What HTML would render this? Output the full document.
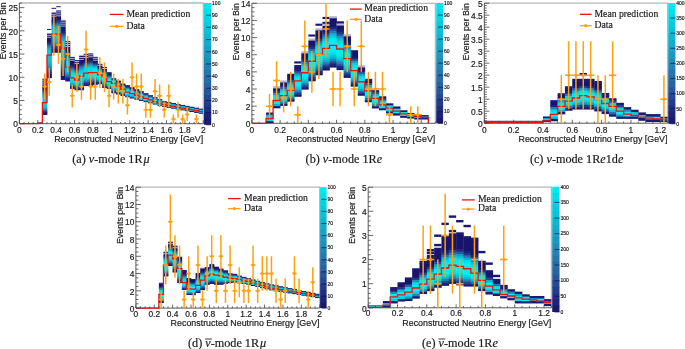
<!DOCTYPE html>
<html><head><meta charset="utf-8"><title>Figure</title>
<style>
html,body{margin:0;padding:0;background:#fff;}
body{width:685px;height:349px;overflow:hidden;}
svg{display:block;font-family:"Liberation Sans",sans-serif;will-change:transform;filter:blur(0.3px);}
</style></head><body>
<svg width="685" height="349" viewBox="0 0 685 349" fill="#1a1a1a">
<style>text{stroke:#1a1a1a;stroke-width:0.18px;}</style>
<clipPath id="ca"><rect x="19.4" y="3" width="183.9" height="120.7"/></clipPath>
<path d="M19.4 3H203.3V123.7" stroke="#b8b8b8" stroke-width="1.3" fill="none"/>
<path d="M19.4 3V123.7H203.3" stroke="#444" stroke-width="0.9" fill="none"/>
<g clip-path="url(#ca)">
<rect x="42.39" y="78.67" width="4.9" height="1.58" fill="#1a1a71"/>
<rect x="42.39" y="79.65" width="4.9" height="1.58" fill="#b4b4d8"/>
<rect x="42.39" y="80.63" width="4.9" height="1.58" fill="#18146c"/>
<rect x="42.39" y="81.61" width="4.9" height="1.58" fill="#b4b4d8"/>
<rect x="42.39" y="82.58" width="4.9" height="1.58" fill="#18146c"/>
<rect x="42.39" y="83.56" width="4.9" height="1.58" fill="#b4b4d8"/>
<rect x="42.39" y="84.54" width="4.9" height="3.54" fill="#18146c"/>
<rect x="42.39" y="87.48" width="4.9" height="1.58" fill="#1b1e74"/>
<rect x="42.39" y="88.46" width="4.9" height="1.58" fill="#1e287c"/>
<rect x="42.39" y="89.43" width="4.9" height="1.58" fill="#213585"/>
<rect x="42.39" y="90.41" width="4.9" height="1.58" fill="#264f96"/>
<rect x="42.39" y="91.39" width="4.9" height="1.58" fill="#2767a4"/>
<rect x="42.39" y="92.37" width="4.9" height="1.58" fill="#237db0"/>
<rect x="42.39" y="93.35" width="4.9" height="1.58" fill="#1c93bc"/>
<rect x="42.39" y="94.33" width="4.9" height="1.58" fill="#14a8c8"/>
<rect x="42.39" y="95.31" width="4.9" height="1.58" fill="#10b2ce"/>
<rect x="42.39" y="96.29" width="4.9" height="1.58" fill="#0cbcd4"/>
<rect x="42.39" y="97.26" width="4.9" height="3.54" fill="#08c6da"/>
<rect x="42.39" y="100.2" width="4.9" height="5.49" fill="#05d0e0"/>
<rect x="42.39" y="105.09" width="4.9" height="2.56" fill="#08c6da"/>
<rect x="42.39" y="107.05" width="4.9" height="1.58" fill="#0cbcd4"/>
<rect x="42.39" y="108.03" width="4.9" height="1.58" fill="#14a8c8"/>
<rect x="42.39" y="109.01" width="4.9" height="1.58" fill="#2088b6"/>
<rect x="42.39" y="109.99" width="4.9" height="1.58" fill="#2767a4"/>
<rect x="42.39" y="110.97" width="4.9" height="1.58" fill="#24428e"/>
<rect x="42.39" y="111.94" width="4.9" height="1.58" fill="#1e287c"/>
<rect x="42.39" y="112.92" width="4.9" height="1.58" fill="#1b1e74"/>
<rect x="42.39" y="113.9" width="4.9" height="0.98" fill="#1a1a71"/>
<rect x="46.98" y="32.9" width="4.9" height="1.58" fill="#b4b4d8"/>
<rect x="46.98" y="33.88" width="4.9" height="1.58" fill="#18146c"/>
<rect x="46.98" y="34.87" width="4.9" height="1.58" fill="#b4b4d8"/>
<rect x="46.98" y="35.85" width="4.9" height="1.58" fill="#18146c"/>
<rect x="46.98" y="36.84" width="4.9" height="1.58" fill="#b4b4d8"/>
<rect x="46.98" y="37.82" width="4.9" height="3.55" fill="#18146c"/>
<rect x="46.98" y="40.78" width="4.9" height="2.57" fill="#1b1e74"/>
<rect x="46.98" y="42.75" width="4.9" height="1.58" fill="#213585"/>
<rect x="46.98" y="43.73" width="4.9" height="1.58" fill="#24428e"/>
<rect x="46.98" y="44.72" width="4.9" height="1.58" fill="#2767a4"/>
<rect x="46.98" y="45.7" width="4.9" height="1.58" fill="#237db0"/>
<rect x="46.98" y="46.69" width="4.9" height="1.58" fill="#1c93bc"/>
<rect x="46.98" y="47.67" width="4.9" height="1.58" fill="#14a8c8"/>
<rect x="46.98" y="48.66" width="4.9" height="1.58" fill="#10b2ce"/>
<rect x="46.98" y="49.64" width="4.9" height="1.58" fill="#0cbcd4"/>
<rect x="46.98" y="50.63" width="4.9" height="11.43" fill="#08c6da"/>
<rect x="46.98" y="61.46" width="4.9" height="2.57" fill="#0cbcd4"/>
<rect x="46.98" y="63.43" width="4.9" height="1.58" fill="#10b2ce"/>
<rect x="46.98" y="64.42" width="4.9" height="1.58" fill="#14a8c8"/>
<rect x="46.98" y="65.4" width="4.9" height="1.58" fill="#189ec2"/>
<rect x="46.98" y="66.39" width="4.9" height="1.58" fill="#1c93bc"/>
<rect x="46.98" y="67.37" width="4.9" height="1.58" fill="#2088b6"/>
<rect x="46.98" y="68.36" width="4.9" height="1.58" fill="#2672aa"/>
<rect x="46.98" y="69.34" width="4.9" height="1.58" fill="#2767a4"/>
<rect x="46.98" y="70.33" width="4.9" height="1.58" fill="#264f96"/>
<rect x="46.98" y="71.31" width="4.9" height="1.58" fill="#24428e"/>
<rect x="46.98" y="72.3" width="4.9" height="2.57" fill="#1e287c"/>
<rect x="46.98" y="74.27" width="4.9" height="1.58" fill="#1b1e74"/>
<rect x="46.98" y="75.25" width="4.9" height="2.57" fill="#18146c"/>
<rect x="46.98" y="77.22" width="4.9" height="0.98" fill="#1a1a71"/>
<rect x="46.98" y="28.97" width="4.6" height="0.97" fill="#19186f"/>
<rect x="51.58" y="11.82" width="4.9" height="1.57" fill="#b4b4d8"/>
<rect x="51.58" y="12.79" width="4.9" height="1.57" fill="#18146c"/>
<rect x="51.58" y="13.77" width="4.9" height="1.57" fill="#b4b4d8"/>
<rect x="51.58" y="14.74" width="4.9" height="1.57" fill="#18146c"/>
<rect x="51.58" y="15.71" width="4.9" height="1.57" fill="#b4b4d8"/>
<rect x="51.58" y="16.68" width="4.9" height="4.49" fill="#18146c"/>
<rect x="51.58" y="20.57" width="4.9" height="1.57" fill="#1b1e74"/>
<rect x="51.58" y="21.55" width="4.9" height="1.57" fill="#1e287c"/>
<rect x="51.58" y="22.52" width="4.9" height="1.57" fill="#24428e"/>
<rect x="51.58" y="23.49" width="4.9" height="1.57" fill="#285c9e"/>
<rect x="51.58" y="24.47" width="4.9" height="1.57" fill="#2672aa"/>
<rect x="51.58" y="25.44" width="4.9" height="1.57" fill="#1c93bc"/>
<rect x="51.58" y="26.41" width="4.9" height="1.57" fill="#14a8c8"/>
<rect x="51.58" y="27.38" width="4.9" height="1.57" fill="#10b2ce"/>
<rect x="51.58" y="28.36" width="4.9" height="1.57" fill="#0cbcd4"/>
<rect x="51.58" y="29.33" width="4.9" height="10.33" fill="#08c6da"/>
<rect x="51.58" y="39.06" width="4.9" height="2.55" fill="#0cbcd4"/>
<rect x="51.58" y="41" width="4.9" height="1.57" fill="#10b2ce"/>
<rect x="51.58" y="41.97" width="4.9" height="1.57" fill="#14a8c8"/>
<rect x="51.58" y="42.95" width="4.9" height="1.57" fill="#1c93bc"/>
<rect x="51.58" y="43.92" width="4.9" height="1.57" fill="#2088b6"/>
<rect x="51.58" y="44.89" width="4.9" height="1.57" fill="#2672aa"/>
<rect x="51.58" y="45.86" width="4.9" height="1.57" fill="#285c9e"/>
<rect x="51.58" y="46.84" width="4.9" height="1.57" fill="#24428e"/>
<rect x="51.58" y="47.81" width="4.9" height="1.57" fill="#213585"/>
<rect x="51.58" y="48.78" width="4.9" height="1.57" fill="#1e287c"/>
<rect x="51.58" y="49.75" width="4.9" height="1.57" fill="#1b1e74"/>
<rect x="51.58" y="50.73" width="4.9" height="1.57" fill="#18146c"/>
<rect x="51.58" y="51.7" width="4.9" height="0.97" fill="#1a1a71"/>
<rect x="51.58" y="7.85" width="4.6" height="0.97" fill="#19186f"/>
<rect x="56.18" y="10.43" width="4.9" height="1.58" fill="#1a1a71"/>
<rect x="56.18" y="11.41" width="4.9" height="1.58" fill="#b4b4d8"/>
<rect x="56.18" y="12.39" width="4.9" height="1.58" fill="#18146c"/>
<rect x="56.18" y="13.38" width="4.9" height="1.58" fill="#b4b4d8"/>
<rect x="56.18" y="14.36" width="4.9" height="1.58" fill="#18146c"/>
<rect x="56.18" y="15.34" width="4.9" height="1.58" fill="#b4b4d8"/>
<rect x="56.18" y="16.32" width="4.9" height="3.55" fill="#18146c"/>
<rect x="56.18" y="19.27" width="4.9" height="1.58" fill="#1b1e74"/>
<rect x="56.18" y="20.25" width="4.9" height="1.58" fill="#1e287c"/>
<rect x="56.18" y="21.23" width="4.9" height="1.58" fill="#213585"/>
<rect x="56.18" y="22.22" width="4.9" height="1.58" fill="#264f96"/>
<rect x="56.18" y="23.2" width="4.9" height="1.58" fill="#2767a4"/>
<rect x="56.18" y="24.18" width="4.9" height="1.58" fill="#237db0"/>
<rect x="56.18" y="25.16" width="4.9" height="1.58" fill="#1c93bc"/>
<rect x="56.18" y="26.15" width="4.9" height="1.58" fill="#14a8c8"/>
<rect x="56.18" y="27.13" width="4.9" height="1.58" fill="#10b2ce"/>
<rect x="56.18" y="28.11" width="4.9" height="1.58" fill="#0cbcd4"/>
<rect x="56.18" y="29.09" width="4.9" height="10.42" fill="#08c6da"/>
<rect x="56.18" y="38.92" width="4.9" height="2.56" fill="#0cbcd4"/>
<rect x="56.18" y="40.88" width="4.9" height="1.58" fill="#10b2ce"/>
<rect x="56.18" y="41.87" width="4.9" height="1.58" fill="#14a8c8"/>
<rect x="56.18" y="42.85" width="4.9" height="1.58" fill="#189ec2"/>
<rect x="56.18" y="43.83" width="4.9" height="1.58" fill="#2088b6"/>
<rect x="56.18" y="44.81" width="4.9" height="1.58" fill="#2672aa"/>
<rect x="56.18" y="45.8" width="4.9" height="1.58" fill="#285c9e"/>
<rect x="56.18" y="46.78" width="4.9" height="1.58" fill="#24428e"/>
<rect x="56.18" y="47.76" width="4.9" height="1.58" fill="#213585"/>
<rect x="56.18" y="48.74" width="4.9" height="1.58" fill="#1e287c"/>
<rect x="56.18" y="49.73" width="4.9" height="1.58" fill="#1b1e74"/>
<rect x="56.18" y="50.71" width="4.9" height="1.58" fill="#18146c"/>
<rect x="56.18" y="51.69" width="4.9" height="0.98" fill="#1a1a71"/>
<rect x="56.18" y="6.23" width="4.6" height="0.97" fill="#19186f"/>
<rect x="60.78" y="19.71" width="4.9" height="1.57" fill="#b4b4d8"/>
<rect x="60.78" y="20.69" width="4.9" height="1.57" fill="#18146c"/>
<rect x="60.78" y="21.66" width="4.9" height="1.57" fill="#b4b4d8"/>
<rect x="60.78" y="22.63" width="4.9" height="1.57" fill="#18146c"/>
<rect x="60.78" y="23.61" width="4.9" height="1.57" fill="#b4b4d8"/>
<rect x="60.78" y="24.58" width="4.9" height="1.57" fill="#18146c"/>
<rect x="60.78" y="25.55" width="4.9" height="1.57" fill="#b4b4d8"/>
<rect x="60.78" y="26.53" width="4.9" height="4.49" fill="#18146c"/>
<rect x="60.78" y="30.42" width="4.9" height="2.55" fill="#1b1e74"/>
<rect x="60.78" y="32.37" width="4.9" height="1.57" fill="#1e287c"/>
<rect x="60.78" y="33.34" width="4.9" height="1.57" fill="#24428e"/>
<rect x="60.78" y="34.31" width="4.9" height="1.57" fill="#264f96"/>
<rect x="60.78" y="35.29" width="4.9" height="1.57" fill="#2767a4"/>
<rect x="60.78" y="36.26" width="4.9" height="1.57" fill="#237db0"/>
<rect x="60.78" y="37.23" width="4.9" height="1.57" fill="#1c93bc"/>
<rect x="60.78" y="38.21" width="4.9" height="1.57" fill="#189ec2"/>
<rect x="60.78" y="39.18" width="4.9" height="1.57" fill="#14a8c8"/>
<rect x="60.78" y="40.15" width="4.9" height="1.57" fill="#10b2ce"/>
<rect x="60.78" y="41.13" width="4.9" height="2.55" fill="#0cbcd4"/>
<rect x="60.78" y="43.07" width="4.9" height="14.23" fill="#08c6da"/>
<rect x="60.78" y="56.7" width="4.9" height="3.52" fill="#0cbcd4"/>
<rect x="60.78" y="59.62" width="4.9" height="2.55" fill="#10b2ce"/>
<rect x="60.78" y="61.57" width="4.9" height="1.57" fill="#14a8c8"/>
<rect x="60.78" y="62.54" width="4.9" height="1.57" fill="#189ec2"/>
<rect x="60.78" y="63.51" width="4.9" height="1.57" fill="#1c93bc"/>
<rect x="60.78" y="64.49" width="4.9" height="1.57" fill="#2088b6"/>
<rect x="60.78" y="65.46" width="4.9" height="1.57" fill="#237db0"/>
<rect x="60.78" y="66.43" width="4.9" height="1.57" fill="#2672aa"/>
<rect x="60.78" y="67.41" width="4.9" height="1.57" fill="#2767a4"/>
<rect x="60.78" y="68.38" width="4.9" height="1.57" fill="#285c9e"/>
<rect x="60.78" y="69.36" width="4.9" height="1.57" fill="#264f96"/>
<rect x="60.78" y="70.33" width="4.9" height="1.57" fill="#24428e"/>
<rect x="60.78" y="71.3" width="4.9" height="1.57" fill="#213585"/>
<rect x="60.78" y="72.28" width="4.9" height="2.55" fill="#1e287c"/>
<rect x="60.78" y="74.22" width="4.9" height="2.55" fill="#1b1e74"/>
<rect x="60.78" y="76.17" width="4.9" height="3.52" fill="#18146c"/>
<rect x="60.78" y="79.09" width="4.9" height="0.97" fill="#1a1a71"/>
<rect x="65.38" y="41.07" width="4.9" height="1.59" fill="#1a1a71"/>
<rect x="65.38" y="42.05" width="4.9" height="1.59" fill="#b4b4d8"/>
<rect x="65.38" y="43.04" width="4.9" height="1.59" fill="#18146c"/>
<rect x="65.38" y="44.02" width="4.9" height="1.59" fill="#b4b4d8"/>
<rect x="65.38" y="45.01" width="4.9" height="1.59" fill="#18146c"/>
<rect x="65.38" y="45.99" width="4.9" height="1.59" fill="#b4b4d8"/>
<rect x="65.38" y="46.98" width="4.9" height="4.54" fill="#18146c"/>
<rect x="65.38" y="50.92" width="4.9" height="1.59" fill="#1b1e74"/>
<rect x="65.38" y="51.9" width="4.9" height="1.59" fill="#1e287c"/>
<rect x="65.38" y="52.89" width="4.9" height="1.59" fill="#213585"/>
<rect x="65.38" y="53.87" width="4.9" height="1.59" fill="#24428e"/>
<rect x="65.38" y="54.86" width="4.9" height="1.59" fill="#285c9e"/>
<rect x="65.38" y="55.84" width="4.9" height="1.59" fill="#2672aa"/>
<rect x="65.38" y="56.83" width="4.9" height="1.59" fill="#2088b6"/>
<rect x="65.38" y="57.81" width="4.9" height="1.59" fill="#189ec2"/>
<rect x="65.38" y="58.8" width="4.9" height="1.59" fill="#14a8c8"/>
<rect x="65.38" y="59.78" width="4.9" height="1.59" fill="#10b2ce"/>
<rect x="65.38" y="60.77" width="4.9" height="1.59" fill="#0cbcd4"/>
<rect x="65.38" y="61.75" width="4.9" height="10.45" fill="#08c6da"/>
<rect x="65.38" y="71.6" width="4.9" height="1.59" fill="#0cbcd4"/>
<rect x="65.38" y="72.59" width="4.9" height="1.59" fill="#10b2ce"/>
<rect x="65.38" y="73.57" width="4.9" height="1.59" fill="#189ec2"/>
<rect x="65.38" y="74.56" width="4.9" height="1.59" fill="#2088b6"/>
<rect x="65.38" y="75.54" width="4.9" height="1.59" fill="#2767a4"/>
<rect x="65.38" y="76.53" width="4.9" height="1.59" fill="#264f96"/>
<rect x="65.38" y="77.51" width="4.9" height="1.59" fill="#213585"/>
<rect x="65.38" y="78.5" width="4.9" height="2.57" fill="#1b1e74"/>
<rect x="65.38" y="80.47" width="4.9" height="0.99" fill="#1a1a71"/>
<rect x="69.97" y="56.85" width="4.9" height="1.57" fill="#1a1a71"/>
<rect x="69.97" y="57.82" width="4.9" height="1.57" fill="#b4b4d8"/>
<rect x="69.97" y="58.79" width="4.9" height="1.57" fill="#18146c"/>
<rect x="69.97" y="59.76" width="4.9" height="1.57" fill="#b4b4d8"/>
<rect x="69.97" y="60.73" width="4.9" height="4.48" fill="#18146c"/>
<rect x="69.97" y="64.62" width="4.9" height="1.57" fill="#1b1e74"/>
<rect x="69.97" y="65.59" width="4.9" height="1.57" fill="#1e287c"/>
<rect x="69.97" y="66.56" width="4.9" height="1.57" fill="#24428e"/>
<rect x="69.97" y="67.53" width="4.9" height="1.57" fill="#285c9e"/>
<rect x="69.97" y="68.5" width="4.9" height="1.57" fill="#237db0"/>
<rect x="69.97" y="69.47" width="4.9" height="1.57" fill="#189ec2"/>
<rect x="69.97" y="70.44" width="4.9" height="1.57" fill="#10b2ce"/>
<rect x="69.97" y="71.41" width="4.9" height="1.57" fill="#08c6da"/>
<rect x="69.97" y="72.38" width="4.9" height="1.57" fill="#05d0e0"/>
<rect x="69.97" y="73.35" width="4.9" height="1.57" fill="#02dae6"/>
<rect x="69.97" y="74.32" width="4.9" height="6.42" fill="#01e4ec"/>
<rect x="69.97" y="80.15" width="4.9" height="2.54" fill="#02dae6"/>
<rect x="69.97" y="82.09" width="4.9" height="1.57" fill="#08c6da"/>
<rect x="69.97" y="83.06" width="4.9" height="1.57" fill="#10b2ce"/>
<rect x="69.97" y="84.03" width="4.9" height="1.57" fill="#2088b6"/>
<rect x="69.97" y="85" width="4.9" height="1.57" fill="#2767a4"/>
<rect x="69.97" y="85.97" width="4.9" height="1.57" fill="#213585"/>
<rect x="69.97" y="86.94" width="4.9" height="1.57" fill="#1b1e74"/>
<rect x="69.97" y="87.91" width="4.9" height="0.97" fill="#1a1a71"/>
<rect x="74.57" y="60.1" width="4.9" height="1.57" fill="#1a1a71"/>
<rect x="74.57" y="61.07" width="4.9" height="1.57" fill="#b4b4d8"/>
<rect x="74.57" y="62.05" width="4.9" height="1.57" fill="#18146c"/>
<rect x="74.57" y="63.02" width="4.9" height="1.57" fill="#b4b4d8"/>
<rect x="74.57" y="63.99" width="4.9" height="3.52" fill="#18146c"/>
<rect x="74.57" y="66.91" width="4.9" height="1.57" fill="#1b1e74"/>
<rect x="74.57" y="67.89" width="4.9" height="1.57" fill="#1e287c"/>
<rect x="74.57" y="68.86" width="4.9" height="1.57" fill="#213585"/>
<rect x="74.57" y="69.83" width="4.9" height="1.57" fill="#285c9e"/>
<rect x="74.57" y="70.81" width="4.9" height="1.57" fill="#237db0"/>
<rect x="74.57" y="71.78" width="4.9" height="1.57" fill="#189ec2"/>
<rect x="74.57" y="72.75" width="4.9" height="1.57" fill="#0cbcd4"/>
<rect x="74.57" y="73.73" width="4.9" height="1.57" fill="#05d0e0"/>
<rect x="74.57" y="74.7" width="4.9" height="1.57" fill="#02dae6"/>
<rect x="74.57" y="75.67" width="4.9" height="1.57" fill="#01e4ec"/>
<rect x="74.57" y="76.65" width="4.9" height="6.44" fill="#00eef2"/>
<rect x="74.57" y="82.49" width="4.9" height="1.57" fill="#01e4ec"/>
<rect x="74.57" y="83.46" width="4.9" height="1.57" fill="#02dae6"/>
<rect x="74.57" y="84.44" width="4.9" height="1.57" fill="#08c6da"/>
<rect x="74.57" y="85.41" width="4.9" height="1.57" fill="#189ec2"/>
<rect x="74.57" y="86.38" width="4.9" height="1.57" fill="#2672aa"/>
<rect x="74.57" y="87.36" width="4.9" height="1.57" fill="#24428e"/>
<rect x="74.57" y="88.33" width="4.9" height="1.57" fill="#1e287c"/>
<rect x="74.57" y="89.3" width="4.9" height="0.97" fill="#1a1a71"/>
<rect x="79.17" y="54.99" width="4.9" height="1.58" fill="#b4b4d8"/>
<rect x="79.17" y="55.97" width="4.9" height="1.58" fill="#18146c"/>
<rect x="79.17" y="56.95" width="4.9" height="1.58" fill="#b4b4d8"/>
<rect x="79.17" y="57.93" width="4.9" height="1.58" fill="#18146c"/>
<rect x="79.17" y="58.91" width="4.9" height="1.58" fill="#b4b4d8"/>
<rect x="79.17" y="59.89" width="4.9" height="3.54" fill="#18146c"/>
<rect x="79.17" y="62.83" width="4.9" height="1.58" fill="#1b1e74"/>
<rect x="79.17" y="63.81" width="4.9" height="1.58" fill="#1e287c"/>
<rect x="79.17" y="64.79" width="4.9" height="1.58" fill="#24428e"/>
<rect x="79.17" y="65.77" width="4.9" height="1.58" fill="#285c9e"/>
<rect x="79.17" y="66.75" width="4.9" height="1.58" fill="#237db0"/>
<rect x="79.17" y="67.73" width="4.9" height="1.58" fill="#1c93bc"/>
<rect x="79.17" y="68.71" width="4.9" height="1.58" fill="#14a8c8"/>
<rect x="79.17" y="69.69" width="4.9" height="1.58" fill="#0cbcd4"/>
<rect x="79.17" y="70.67" width="4.9" height="1.58" fill="#08c6da"/>
<rect x="79.17" y="71.65" width="4.9" height="9.42" fill="#05d0e0"/>
<rect x="79.17" y="80.47" width="4.9" height="1.58" fill="#08c6da"/>
<rect x="79.17" y="81.45" width="4.9" height="1.58" fill="#0cbcd4"/>
<rect x="79.17" y="82.44" width="4.9" height="1.58" fill="#14a8c8"/>
<rect x="79.17" y="83.42" width="4.9" height="1.58" fill="#1c93bc"/>
<rect x="79.17" y="84.4" width="4.9" height="1.58" fill="#2672aa"/>
<rect x="79.17" y="85.38" width="4.9" height="1.58" fill="#285c9e"/>
<rect x="79.17" y="86.36" width="4.9" height="1.58" fill="#213585"/>
<rect x="79.17" y="87.34" width="4.9" height="1.58" fill="#1e287c"/>
<rect x="79.17" y="88.32" width="4.9" height="1.58" fill="#1b1e74"/>
<rect x="79.17" y="89.3" width="4.9" height="0.98" fill="#1a1a71"/>
<rect x="83.76" y="53.14" width="4.9" height="1.57" fill="#b4b4d8"/>
<rect x="83.76" y="54.11" width="4.9" height="1.57" fill="#18146c"/>
<rect x="83.76" y="55.08" width="4.9" height="1.57" fill="#b4b4d8"/>
<rect x="83.76" y="56.05" width="4.9" height="1.57" fill="#18146c"/>
<rect x="83.76" y="57.01" width="4.9" height="1.57" fill="#b4b4d8"/>
<rect x="83.76" y="57.98" width="4.9" height="2.54" fill="#18146c"/>
<rect x="83.76" y="59.92" width="4.9" height="2.54" fill="#1b1e74"/>
<rect x="83.76" y="61.86" width="4.9" height="1.57" fill="#213585"/>
<rect x="83.76" y="62.83" width="4.9" height="1.57" fill="#264f96"/>
<rect x="83.76" y="63.8" width="4.9" height="1.57" fill="#2672aa"/>
<rect x="83.76" y="64.77" width="4.9" height="1.57" fill="#1c93bc"/>
<rect x="83.76" y="65.74" width="4.9" height="1.57" fill="#14a8c8"/>
<rect x="83.76" y="66.71" width="4.9" height="1.57" fill="#0cbcd4"/>
<rect x="83.76" y="67.68" width="4.9" height="1.57" fill="#05d0e0"/>
<rect x="83.76" y="68.65" width="4.9" height="9.32" fill="#02dae6"/>
<rect x="83.76" y="77.37" width="4.9" height="1.57" fill="#05d0e0"/>
<rect x="83.76" y="78.34" width="4.9" height="1.57" fill="#0cbcd4"/>
<rect x="83.76" y="79.31" width="4.9" height="1.57" fill="#14a8c8"/>
<rect x="83.76" y="80.28" width="4.9" height="1.57" fill="#2088b6"/>
<rect x="83.76" y="81.25" width="4.9" height="1.57" fill="#2767a4"/>
<rect x="83.76" y="82.22" width="4.9" height="1.57" fill="#24428e"/>
<rect x="83.76" y="83.19" width="4.9" height="1.57" fill="#1e287c"/>
<rect x="83.76" y="84.16" width="4.9" height="1.57" fill="#1b1e74"/>
<rect x="83.76" y="85.13" width="4.9" height="0.97" fill="#1a1a71"/>
<rect x="88.36" y="53.37" width="4.9" height="1.58" fill="#1a1a71"/>
<rect x="88.36" y="54.35" width="4.9" height="1.58" fill="#b4b4d8"/>
<rect x="88.36" y="55.32" width="4.9" height="1.58" fill="#18146c"/>
<rect x="88.36" y="56.3" width="4.9" height="1.58" fill="#b4b4d8"/>
<rect x="88.36" y="57.28" width="4.9" height="3.53" fill="#18146c"/>
<rect x="88.36" y="60.21" width="4.9" height="1.58" fill="#1b1e74"/>
<rect x="88.36" y="61.19" width="4.9" height="1.58" fill="#1e287c"/>
<rect x="88.36" y="62.17" width="4.9" height="1.58" fill="#24428e"/>
<rect x="88.36" y="63.15" width="4.9" height="1.58" fill="#2767a4"/>
<rect x="88.36" y="64.12" width="4.9" height="1.58" fill="#2088b6"/>
<rect x="88.36" y="65.1" width="4.9" height="1.58" fill="#14a8c8"/>
<rect x="88.36" y="66.08" width="4.9" height="1.58" fill="#0cbcd4"/>
<rect x="88.36" y="67.06" width="4.9" height="1.58" fill="#05d0e0"/>
<rect x="88.36" y="68.03" width="4.9" height="2.56" fill="#02dae6"/>
<rect x="88.36" y="69.99" width="4.9" height="5.49" fill="#01e4ec"/>
<rect x="88.36" y="74.88" width="4.9" height="2.56" fill="#02dae6"/>
<rect x="88.36" y="76.83" width="4.9" height="1.58" fill="#05d0e0"/>
<rect x="88.36" y="77.81" width="4.9" height="1.58" fill="#08c6da"/>
<rect x="88.36" y="78.79" width="4.9" height="1.58" fill="#14a8c8"/>
<rect x="88.36" y="79.77" width="4.9" height="1.58" fill="#2088b6"/>
<rect x="88.36" y="80.74" width="4.9" height="1.58" fill="#2767a4"/>
<rect x="88.36" y="81.72" width="4.9" height="1.58" fill="#24428e"/>
<rect x="88.36" y="82.7" width="4.9" height="1.58" fill="#1e287c"/>
<rect x="88.36" y="83.68" width="4.9" height="1.58" fill="#1b1e74"/>
<rect x="88.36" y="84.66" width="4.9" height="0.98" fill="#1a1a71"/>
<rect x="92.96" y="56.85" width="4.9" height="1.56" fill="#1a1a71"/>
<rect x="92.96" y="57.81" width="4.9" height="1.56" fill="#b4b4d8"/>
<rect x="92.96" y="58.77" width="4.9" height="1.56" fill="#18146c"/>
<rect x="92.96" y="59.73" width="4.9" height="1.56" fill="#b4b4d8"/>
<rect x="92.96" y="60.69" width="4.9" height="2.52" fill="#18146c"/>
<rect x="92.96" y="62.61" width="4.9" height="1.56" fill="#1e287c"/>
<rect x="92.96" y="63.57" width="4.9" height="1.56" fill="#24428e"/>
<rect x="92.96" y="64.53" width="4.9" height="1.56" fill="#2767a4"/>
<rect x="92.96" y="65.5" width="4.9" height="1.56" fill="#1c93bc"/>
<rect x="92.96" y="66.46" width="4.9" height="1.56" fill="#10b2ce"/>
<rect x="92.96" y="67.42" width="4.9" height="1.56" fill="#05d0e0"/>
<rect x="92.96" y="68.38" width="4.9" height="1.56" fill="#01e4ec"/>
<rect x="92.96" y="69.34" width="4.9" height="7.32" fill="#00eef2"/>
<rect x="92.96" y="76.06" width="4.9" height="1.56" fill="#01e4ec"/>
<rect x="92.96" y="77.02" width="4.9" height="1.56" fill="#02dae6"/>
<rect x="92.96" y="77.98" width="4.9" height="1.56" fill="#0cbcd4"/>
<rect x="92.96" y="78.94" width="4.9" height="1.56" fill="#189ec2"/>
<rect x="92.96" y="79.9" width="4.9" height="1.56" fill="#237db0"/>
<rect x="92.96" y="80.86" width="4.9" height="1.56" fill="#264f96"/>
<rect x="92.96" y="81.82" width="4.9" height="1.56" fill="#213585"/>
<rect x="92.96" y="82.78" width="4.9" height="1.56" fill="#1b1e74"/>
<rect x="92.96" y="83.74" width="4.9" height="0.96" fill="#1a1a71"/>
<rect x="97.56" y="63.81" width="4.9" height="1.57" fill="#1a1a71"/>
<rect x="97.56" y="64.79" width="4.9" height="1.57" fill="#b4b4d8"/>
<rect x="97.56" y="65.76" width="4.9" height="1.57" fill="#18146c"/>
<rect x="97.56" y="66.73" width="4.9" height="1.57" fill="#1b1e74"/>
<rect x="97.56" y="67.7" width="4.9" height="1.57" fill="#213585"/>
<rect x="97.56" y="68.68" width="4.9" height="1.57" fill="#2767a4"/>
<rect x="97.56" y="69.65" width="4.9" height="1.57" fill="#189ec2"/>
<rect x="97.56" y="70.62" width="4.9" height="1.57" fill="#08c6da"/>
<rect x="97.56" y="71.6" width="4.9" height="1.57" fill="#01e4ec"/>
<rect x="97.56" y="72.57" width="4.9" height="5.46" fill="#00eef2"/>
<rect x="97.56" y="77.43" width="4.9" height="1.57" fill="#01e4ec"/>
<rect x="97.56" y="78.4" width="4.9" height="1.57" fill="#05d0e0"/>
<rect x="97.56" y="79.38" width="4.9" height="1.57" fill="#10b2ce"/>
<rect x="97.56" y="80.35" width="4.9" height="1.57" fill="#2088b6"/>
<rect x="97.56" y="81.32" width="4.9" height="1.57" fill="#285c9e"/>
<rect x="97.56" y="82.3" width="4.9" height="1.57" fill="#1e287c"/>
<rect x="97.56" y="83.27" width="4.9" height="0.97" fill="#1a1a71"/>
<rect x="102.16" y="67.06" width="4.9" height="1.59" fill="#1a1a71"/>
<rect x="102.16" y="68.06" width="4.9" height="1.59" fill="#b4b4d8"/>
<rect x="102.16" y="69.05" width="4.9" height="1.59" fill="#18146c"/>
<rect x="102.16" y="70.05" width="4.9" height="1.59" fill="#1e287c"/>
<rect x="102.16" y="71.04" width="4.9" height="1.59" fill="#264f96"/>
<rect x="102.16" y="72.04" width="4.9" height="1.59" fill="#1c93bc"/>
<rect x="102.16" y="73.03" width="4.9" height="1.59" fill="#08c6da"/>
<rect x="102.16" y="74.03" width="4.9" height="1.59" fill="#01e4ec"/>
<rect x="102.16" y="75.02" width="4.9" height="5.57" fill="#00eef2"/>
<rect x="102.16" y="80" width="4.9" height="1.59" fill="#01e4ec"/>
<rect x="102.16" y="80.99" width="4.9" height="1.59" fill="#02dae6"/>
<rect x="102.16" y="81.99" width="4.9" height="1.59" fill="#0cbcd4"/>
<rect x="102.16" y="82.98" width="4.9" height="1.59" fill="#189ec2"/>
<rect x="102.16" y="83.98" width="4.9" height="1.59" fill="#2672aa"/>
<rect x="102.16" y="84.97" width="4.9" height="1.59" fill="#24428e"/>
<rect x="102.16" y="85.96" width="4.9" height="1.59" fill="#1e287c"/>
<rect x="102.16" y="86.96" width="4.9" height="0.99" fill="#1a1a71"/>
<rect x="106.75" y="72.17" width="4.9" height="1.58" fill="#1a1a71"/>
<rect x="106.75" y="73.15" width="4.9" height="2.57" fill="#18146c"/>
<rect x="106.75" y="75.12" width="4.9" height="1.58" fill="#213585"/>
<rect x="106.75" y="76.1" width="4.9" height="1.58" fill="#2767a4"/>
<rect x="106.75" y="77.09" width="4.9" height="1.58" fill="#14a8c8"/>
<rect x="106.75" y="78.07" width="4.9" height="1.58" fill="#05d0e0"/>
<rect x="106.75" y="79.05" width="4.9" height="1.58" fill="#01e4ec"/>
<rect x="106.75" y="80.03" width="4.9" height="4.53" fill="#00eef2"/>
<rect x="106.75" y="83.97" width="4.9" height="1.58" fill="#02dae6"/>
<rect x="106.75" y="84.95" width="4.9" height="1.58" fill="#0cbcd4"/>
<rect x="106.75" y="85.93" width="4.9" height="1.58" fill="#2088b6"/>
<rect x="106.75" y="86.92" width="4.9" height="1.58" fill="#24428e"/>
<rect x="106.75" y="87.9" width="4.9" height="0.98" fill="#1a1a71"/>
<rect x="111.35" y="78.21" width="4.9" height="1.61" fill="#1a1a71"/>
<rect x="111.35" y="79.21" width="4.9" height="1.61" fill="#24428e"/>
<rect x="111.35" y="80.22" width="4.9" height="1.61" fill="#14a8c8"/>
<rect x="111.35" y="81.22" width="4.9" height="1.61" fill="#01e4ec"/>
<rect x="111.35" y="82.23" width="4.9" height="4.62" fill="#00eef2"/>
<rect x="111.35" y="86.25" width="4.9" height="1.61" fill="#01e4ec"/>
<rect x="111.35" y="87.26" width="4.9" height="1.61" fill="#05d0e0"/>
<rect x="111.35" y="88.26" width="4.9" height="1.61" fill="#14a8c8"/>
<rect x="111.35" y="89.27" width="4.9" height="1.61" fill="#237db0"/>
<rect x="111.35" y="90.28" width="4.9" height="1.61" fill="#264f96"/>
<rect x="111.35" y="91.28" width="4.9" height="1.61" fill="#1e287c"/>
<rect x="111.35" y="92.29" width="4.9" height="1.01" fill="#1a1a71"/>
<rect x="115.95" y="80.53" width="4.9" height="1.59" fill="#1a1a71"/>
<rect x="115.95" y="81.52" width="4.9" height="1.59" fill="#1e287c"/>
<rect x="115.95" y="82.52" width="4.9" height="1.59" fill="#2088b6"/>
<rect x="115.95" y="83.51" width="4.9" height="1.59" fill="#05d0e0"/>
<rect x="115.95" y="84.51" width="4.9" height="4.58" fill="#00eef2"/>
<rect x="115.95" y="88.48" width="4.9" height="1.59" fill="#01e4ec"/>
<rect x="115.95" y="89.48" width="4.9" height="1.59" fill="#08c6da"/>
<rect x="115.95" y="90.47" width="4.9" height="1.59" fill="#189ec2"/>
<rect x="115.95" y="91.47" width="4.9" height="1.59" fill="#2767a4"/>
<rect x="115.95" y="92.46" width="4.9" height="1.59" fill="#213585"/>
<rect x="115.95" y="93.46" width="4.9" height="0.99" fill="#1a1a71"/>
<rect x="120.55" y="83.54" width="4.9" height="1.55" fill="#1a1a71"/>
<rect x="120.55" y="84.49" width="4.9" height="1.55" fill="#1e287c"/>
<rect x="120.55" y="85.44" width="4.9" height="1.55" fill="#237db0"/>
<rect x="120.55" y="86.38" width="4.9" height="1.55" fill="#08c6da"/>
<rect x="120.55" y="87.33" width="4.9" height="4.39" fill="#00eef2"/>
<rect x="120.55" y="91.11" width="4.9" height="1.55" fill="#01e4ec"/>
<rect x="120.55" y="92.06" width="4.9" height="1.55" fill="#08c6da"/>
<rect x="120.55" y="93.01" width="4.9" height="1.55" fill="#2088b6"/>
<rect x="120.55" y="93.95" width="4.9" height="1.55" fill="#264f96"/>
<rect x="120.55" y="94.9" width="4.9" height="0.95" fill="#1a1a71"/>
<rect x="125.14" y="85.17" width="4.9" height="1.61" fill="#1a1a71"/>
<rect x="125.14" y="86.17" width="4.9" height="1.61" fill="#1b1e74"/>
<rect x="125.14" y="87.18" width="4.9" height="1.61" fill="#24428e"/>
<rect x="125.14" y="88.19" width="4.9" height="1.61" fill="#189ec2"/>
<rect x="125.14" y="89.19" width="4.9" height="1.61" fill="#05d0e0"/>
<rect x="125.14" y="90.2" width="4.9" height="3.62" fill="#00eef2"/>
<rect x="125.14" y="93.22" width="4.9" height="1.61" fill="#01e4ec"/>
<rect x="125.14" y="94.22" width="4.9" height="1.61" fill="#08c6da"/>
<rect x="125.14" y="95.23" width="4.9" height="1.61" fill="#237db0"/>
<rect x="125.14" y="96.23" width="4.9" height="1.01" fill="#1a1a71"/>
<rect x="129.74" y="87.17" width="4.9" height="1.54" fill="#1a1a71"/>
<rect x="129.74" y="88.11" width="4.9" height="1.54" fill="#1b1e74"/>
<rect x="129.74" y="89.05" width="4.9" height="1.54" fill="#264f96"/>
<rect x="129.74" y="89.99" width="4.9" height="1.54" fill="#189ec2"/>
<rect x="129.74" y="90.93" width="4.9" height="1.54" fill="#02dae6"/>
<rect x="129.74" y="91.87" width="4.9" height="3.42" fill="#00eef2"/>
<rect x="129.74" y="94.7" width="4.9" height="1.54" fill="#01e4ec"/>
<rect x="129.74" y="95.64" width="4.9" height="1.54" fill="#08c6da"/>
<rect x="129.74" y="96.58" width="4.9" height="1.54" fill="#237db0"/>
<rect x="129.74" y="97.52" width="4.9" height="0.94" fill="#1a1a71"/>
<rect x="134.34" y="89.17" width="4.9" height="1.55" fill="#1a1a71"/>
<rect x="134.34" y="90.13" width="4.9" height="1.55" fill="#1b1e74"/>
<rect x="134.34" y="91.08" width="4.9" height="1.55" fill="#2767a4"/>
<rect x="134.34" y="92.04" width="4.9" height="1.55" fill="#10b2ce"/>
<rect x="134.34" y="92.99" width="4.9" height="1.55" fill="#01e4ec"/>
<rect x="134.34" y="93.95" width="4.9" height="3.46" fill="#00eef2"/>
<rect x="134.34" y="96.81" width="4.9" height="1.55" fill="#05d0e0"/>
<rect x="134.34" y="97.77" width="4.9" height="1.55" fill="#2088b6"/>
<rect x="134.34" y="98.72" width="4.9" height="0.95" fill="#1a1a71"/>
<rect x="138.94" y="91.17" width="4.9" height="1.57" fill="#1a1a71"/>
<rect x="138.94" y="92.15" width="4.9" height="1.57" fill="#1e287c"/>
<rect x="138.94" y="93.12" width="4.9" height="1.57" fill="#237db0"/>
<rect x="138.94" y="94.09" width="4.9" height="1.57" fill="#05d0e0"/>
<rect x="138.94" y="95.06" width="4.9" height="3.52" fill="#00eef2"/>
<rect x="138.94" y="97.98" width="4.9" height="1.57" fill="#02dae6"/>
<rect x="138.94" y="98.95" width="4.9" height="1.57" fill="#189ec2"/>
<rect x="138.94" y="99.92" width="4.9" height="0.97" fill="#1a1a71"/>
<rect x="143.53" y="93.18" width="4.9" height="1.59" fill="#1a1a71"/>
<rect x="143.53" y="94.17" width="4.9" height="1.59" fill="#213585"/>
<rect x="143.53" y="95.16" width="4.9" height="1.59" fill="#189ec2"/>
<rect x="143.53" y="96.16" width="4.9" height="1.59" fill="#02dae6"/>
<rect x="143.53" y="97.15" width="4.9" height="2.59" fill="#00eef2"/>
<rect x="143.53" y="99.13" width="4.9" height="1.59" fill="#01e4ec"/>
<rect x="143.53" y="100.13" width="4.9" height="1.59" fill="#10b2ce"/>
<rect x="143.53" y="101.12" width="4.9" height="0.99" fill="#1a1a71"/>
<rect x="148.13" y="95.18" width="4.9" height="1.62" fill="#1a1a71"/>
<rect x="148.13" y="96.2" width="4.9" height="1.62" fill="#264f96"/>
<rect x="148.13" y="97.22" width="4.9" height="1.62" fill="#0cbcd4"/>
<rect x="148.13" y="98.24" width="4.9" height="1.62" fill="#01e4ec"/>
<rect x="148.13" y="99.26" width="4.9" height="2.64" fill="#00eef2"/>
<rect x="148.13" y="101.29" width="4.9" height="1.62" fill="#0cbcd4"/>
<rect x="148.13" y="102.31" width="4.9" height="1.02" fill="#1a1a71"/>
<rect x="152.73" y="97.18" width="4.9" height="1.52" fill="#1a1a71"/>
<rect x="152.73" y="98.1" width="4.9" height="1.52" fill="#285c9e"/>
<rect x="152.73" y="99.02" width="4.9" height="1.52" fill="#0cbcd4"/>
<rect x="152.73" y="99.94" width="4.9" height="1.52" fill="#01e4ec"/>
<rect x="152.73" y="100.87" width="4.9" height="2.44" fill="#00eef2"/>
<rect x="152.73" y="102.71" width="4.9" height="1.52" fill="#08c6da"/>
<rect x="152.73" y="103.63" width="4.9" height="0.92" fill="#1a1a71"/>
<rect x="157.33" y="99.18" width="4.9" height="1.54" fill="#1a1a71"/>
<rect x="157.33" y="100.12" width="4.9" height="1.54" fill="#2672aa"/>
<rect x="157.33" y="101.06" width="4.9" height="1.54" fill="#05d0e0"/>
<rect x="157.33" y="102.01" width="4.9" height="2.48" fill="#00eef2"/>
<rect x="157.33" y="103.89" width="4.9" height="1.54" fill="#05d0e0"/>
<rect x="157.33" y="104.83" width="4.9" height="0.94" fill="#1a1a71"/>
<rect x="161.92" y="101.18" width="4.9" height="1.57" fill="#1a1a71"/>
<rect x="161.92" y="102.15" width="4.9" height="1.57" fill="#1c93bc"/>
<rect x="161.92" y="103.12" width="4.9" height="1.57" fill="#01e4ec"/>
<rect x="161.92" y="104.09" width="4.9" height="1.57" fill="#00eef2"/>
<rect x="161.92" y="105.05" width="4.9" height="1.57" fill="#01e4ec"/>
<rect x="161.92" y="106.02" width="4.9" height="0.97" fill="#1a1a71"/>
<rect x="166.52" y="102.11" width="4.9" height="1.55" fill="#1a1a71"/>
<rect x="166.52" y="103.07" width="4.9" height="1.55" fill="#189ec2"/>
<rect x="166.52" y="104.02" width="4.9" height="1.55" fill="#01e4ec"/>
<rect x="166.52" y="104.97" width="4.9" height="1.55" fill="#00eef2"/>
<rect x="166.52" y="105.92" width="4.9" height="1.55" fill="#01e4ec"/>
<rect x="166.52" y="106.88" width="4.9" height="0.95" fill="#1a1a71"/>
<rect x="171.12" y="103.04" width="4.9" height="1.54" fill="#1a1a71"/>
<rect x="171.12" y="103.98" width="4.9" height="1.54" fill="#189ec2"/>
<rect x="171.12" y="104.92" width="4.9" height="1.54" fill="#01e4ec"/>
<rect x="171.12" y="105.86" width="4.9" height="1.54" fill="#00eef2"/>
<rect x="171.12" y="106.79" width="4.9" height="1.54" fill="#01e4ec"/>
<rect x="171.12" y="107.73" width="4.9" height="0.94" fill="#1a1a71"/>
<rect x="175.72" y="103.97" width="4.9" height="1.52" fill="#1a1a71"/>
<rect x="175.72" y="104.89" width="4.9" height="1.52" fill="#189ec2"/>
<rect x="175.72" y="105.82" width="4.9" height="1.52" fill="#01e4ec"/>
<rect x="175.72" y="106.74" width="4.9" height="1.52" fill="#00eef2"/>
<rect x="175.72" y="107.66" width="4.9" height="1.52" fill="#01e4ec"/>
<rect x="175.72" y="108.59" width="4.9" height="0.92" fill="#1a1a71"/>
<rect x="180.31" y="104.9" width="4.9" height="1.51" fill="#1a1a71"/>
<rect x="180.31" y="105.81" width="4.9" height="1.51" fill="#189ec2"/>
<rect x="180.31" y="106.72" width="4.9" height="1.51" fill="#01e4ec"/>
<rect x="180.31" y="107.63" width="4.9" height="1.51" fill="#00eef2"/>
<rect x="180.31" y="108.54" width="4.9" height="1.51" fill="#01e4ec"/>
<rect x="180.31" y="109.44" width="4.9" height="0.91" fill="#1a1a71"/>
<rect x="184.91" y="105.83" width="4.9" height="1.49" fill="#1a1a71"/>
<rect x="184.91" y="106.72" width="4.9" height="1.49" fill="#189ec2"/>
<rect x="184.91" y="107.62" width="4.9" height="1.49" fill="#01e4ec"/>
<rect x="184.91" y="108.51" width="4.9" height="1.49" fill="#00eef2"/>
<rect x="184.91" y="109.41" width="4.9" height="1.49" fill="#01e4ec"/>
<rect x="184.91" y="110.3" width="4.9" height="0.89" fill="#1a1a71"/>
<rect x="189.51" y="106.76" width="4.9" height="1.66" fill="#1a1a71"/>
<rect x="189.51" y="107.81" width="4.9" height="1.66" fill="#0cbcd4"/>
<rect x="189.51" y="108.87" width="4.9" height="2.71" fill="#00eef2"/>
<rect x="189.51" y="110.98" width="4.9" height="1.06" fill="#1a1a71"/>
<rect x="194.11" y="107.68" width="4.9" height="1.64" fill="#1a1a71"/>
<rect x="194.11" y="108.72" width="4.9" height="1.64" fill="#0cbcd4"/>
<rect x="194.11" y="109.76" width="4.9" height="2.68" fill="#00eef2"/>
<rect x="194.11" y="111.84" width="4.9" height="1.04" fill="#1a1a71"/>
<rect x="198.7" y="108.61" width="4.9" height="1.62" fill="#1a1a71"/>
<rect x="198.7" y="109.63" width="4.9" height="1.62" fill="#0cbcd4"/>
<rect x="198.7" y="110.66" width="4.9" height="2.64" fill="#00eef2"/>
<rect x="198.7" y="112.7" width="4.9" height="1.02" fill="#1a1a71"/>
<rect x="37.79" y="123.7" width="4.9" height="0" fill="#1a1a71"/>
<rect x="37.79" y="123.7" width="4.9" height="0" fill="#213585"/>
<rect x="37.79" y="123.7" width="4.9" height="0" fill="#1a1a71"/>
<rect x="37.79" y="122.52" width="4.6" height="0.97" fill="#19186f"/>
</g><clipPath id="ra"><rect x="19.4" y="3" width="183.9" height="121.7"/></clipPath><g clip-path="url(#ra)">
<path d="M19.4 123.7 L24 123.7 L24 123.7 L28.59 123.7 L28.59 123.7 L33.19 123.7 L33.19 123.7 L37.79 123.7 L37.79 123.24 L42.39 123.24 L42.39 102.53 L46.98 102.53 L46.98 55.13 L51.58 55.13 L51.58 34.1 L56.18 34.1 L56.18 34.1 L60.78 34.1 L60.78 48.03 L65.38 48.03 L65.38 67.06 L69.97 67.06 L69.97 77.97 L74.57 77.97 L74.57 80.06 L79.17 80.06 L79.17 76.12 L83.77 76.12 L83.77 73.1 L88.36 73.1 L88.36 72.63 L92.96 72.63 L92.96 72.63 L97.56 72.63 L97.56 74.96 L102.16 74.96 L102.16 77.28 L106.75 77.28 L106.75 81.69 L111.35 81.69 L111.35 83.31 L115.95 83.31 L115.95 86.1 L120.55 86.1 L120.55 89.11 L125.14 89.11 L125.14 92.13 L129.74 92.13 L129.74 93.7 L134.34 93.7 L134.34 95.27 L138.94 95.27 L138.94 96.83 L143.53 96.83 L143.53 98.4 L148.13 98.4 L148.13 99.97 L152.73 99.97 L152.73 101.53 L157.33 101.53 L157.33 103.1 L161.92 103.1 L161.92 104.67 L166.52 104.67 L166.52 105.54 L171.12 105.54 L171.12 106.41 L175.72 106.41 L175.72 107.28 L180.31 107.28 L180.31 108.15 L184.91 108.15 L184.91 109.02 L189.51 109.02 L189.51 109.89 L194.11 109.89 L194.11 110.76 L198.7 110.76 L198.7 111.63 L203.3 111.63" fill="none" stroke="#ee1111" stroke-width="1.3"/>
<path d="M44.69 73.43V99.69M42.39 86.56H46.98" stroke="#ffa010" stroke-width="1.5" fill="none"/>
<circle cx="44.69" cy="86.56" r="1.5" fill="#ffa010"/>
<path d="M49.28 67.99V95.85M46.98 81.92H51.58" stroke="#ffa010" stroke-width="1.5" fill="none"/>
<circle cx="49.28" cy="81.92" r="1.5" fill="#ffa010"/>
<path d="M53.88 15.26V55.73M51.58 35.5H56.18" stroke="#ffa010" stroke-width="1.5" fill="none"/>
<circle cx="53.88" cy="35.5" r="1.5" fill="#ffa010"/>
<path d="M58.48 25.64V63.92M56.18 44.78H60.78" stroke="#ffa010" stroke-width="1.5" fill="none"/>
<circle cx="58.48" cy="44.78" r="1.5" fill="#ffa010"/>
<path d="M63.08 41.34V76.08M60.78 58.71H65.38" stroke="#ffa010" stroke-width="1.5" fill="none"/>
<circle cx="63.08" cy="58.71" r="1.5" fill="#ffa010"/>
<path d="M67.67 36.09V72.04M65.38 54.07H69.97" stroke="#ffa010" stroke-width="1.5" fill="none"/>
<circle cx="67.67" cy="54.07" r="1.5" fill="#ffa010"/>
<path d="M72.27 84.47V107.22M69.97 95.85H74.57" stroke="#ffa010" stroke-width="1.5" fill="none"/>
<circle cx="72.27" cy="95.85" r="1.5" fill="#ffa010"/>
<path d="M76.87 62.6V91.96M74.57 77.28H79.17" stroke="#ffa010" stroke-width="1.5" fill="none"/>
<circle cx="76.87" cy="77.28" r="1.5" fill="#ffa010"/>
<path d="M81.47 73.43V99.69M79.17 86.56H83.77" stroke="#ffa010" stroke-width="1.5" fill="none"/>
<circle cx="81.47" cy="86.56" r="1.5" fill="#ffa010"/>
<path d="M86.06 30.85V67.99M83.77 49.42H88.36" stroke="#ffa010" stroke-width="1.5" fill="none"/>
<circle cx="86.06" cy="49.42" r="1.5" fill="#ffa010"/>
<path d="M90.66 73.43V99.69M88.36 86.56H92.96" stroke="#ffa010" stroke-width="1.5" fill="none"/>
<circle cx="90.66" cy="86.56" r="1.5" fill="#ffa010"/>
<path d="M95.26 73.43V99.69M92.96 86.56H97.56" stroke="#ffa010" stroke-width="1.5" fill="none"/>
<circle cx="95.26" cy="86.56" r="1.5" fill="#ffa010"/>
<path d="M99.86 57.24V88.03M97.56 72.63H102.16" stroke="#ffa010" stroke-width="1.5" fill="none"/>
<circle cx="99.86" cy="72.63" r="1.5" fill="#ffa010"/>
<path d="M104.45 62.6V91.96M102.16 77.28H106.75" stroke="#ffa010" stroke-width="1.5" fill="none"/>
<circle cx="104.45" cy="77.28" r="1.5" fill="#ffa010"/>
<path d="M109.05 84.47V107.22M106.75 95.85H111.35" stroke="#ffa010" stroke-width="1.5" fill="none"/>
<circle cx="109.05" cy="95.85" r="1.5" fill="#ffa010"/>
<path d="M113.65 73.43V99.69M111.35 86.56H115.95" stroke="#ffa010" stroke-width="1.5" fill="none"/>
<circle cx="113.65" cy="86.56" r="1.5" fill="#ffa010"/>
<path d="M118.25 78.92V103.49M115.95 91.2H120.55" stroke="#ffa010" stroke-width="1.5" fill="none"/>
<circle cx="118.25" cy="91.2" r="1.5" fill="#ffa010"/>
<path d="M122.84 78.92V103.49M120.55 91.2H125.14" stroke="#ffa010" stroke-width="1.5" fill="none"/>
<circle cx="122.84" cy="91.2" r="1.5" fill="#ffa010"/>
<path d="M127.44 95.85V114.42M125.14 105.13H129.74" stroke="#ffa010" stroke-width="1.5" fill="none"/>
<circle cx="127.44" cy="105.13" r="1.5" fill="#ffa010"/>
<path d="M132.04 62.6V91.96M129.74 77.28H134.34" stroke="#ffa010" stroke-width="1.5" fill="none"/>
<circle cx="132.04" cy="77.28" r="1.5" fill="#ffa010"/>
<path d="M136.64 73.43V99.69M134.34 86.56H138.93" stroke="#ffa010" stroke-width="1.5" fill="none"/>
<circle cx="136.64" cy="86.56" r="1.5" fill="#ffa010"/>
<path d="M141.23 73.43V99.69M138.94 86.56H143.53" stroke="#ffa010" stroke-width="1.5" fill="none"/>
<circle cx="141.23" cy="86.56" r="1.5" fill="#ffa010"/>
<path d="M145.83 101.73V117.81M143.53 109.77H148.13" stroke="#ffa010" stroke-width="1.5" fill="none"/>
<circle cx="145.83" cy="109.77" r="1.5" fill="#ffa010"/>
<path d="M150.43 101.73V117.81M148.13 109.77H152.73" stroke="#ffa010" stroke-width="1.5" fill="none"/>
<circle cx="150.43" cy="109.77" r="1.5" fill="#ffa010"/>
<path d="M155.03 78.92V103.49M152.73 91.2H157.33" stroke="#ffa010" stroke-width="1.5" fill="none"/>
<circle cx="155.03" cy="91.2" r="1.5" fill="#ffa010"/>
<path d="M159.62 84.47V107.22M157.33 95.85H161.92" stroke="#ffa010" stroke-width="1.5" fill="none"/>
<circle cx="159.62" cy="95.85" r="1.5" fill="#ffa010"/>
<path d="M164.22 101.73V117.81M161.92 109.77H166.52" stroke="#ffa010" stroke-width="1.5" fill="none"/>
<circle cx="164.22" cy="109.77" r="1.5" fill="#ffa010"/>
<path d="M168.82 84.47V107.22M166.52 95.85H171.12" stroke="#ffa010" stroke-width="1.5" fill="none"/>
<circle cx="168.82" cy="95.85" r="1.5" fill="#ffa010"/>
<path d="M173.42 114.42V123.7M171.12 119.06H175.72" stroke="#ffa010" stroke-width="1.5" fill="none"/>
<circle cx="173.42" cy="119.06" r="1.5" fill="#ffa010"/>
<path d="M178.01 101.73V117.81M175.72 109.77H180.31" stroke="#ffa010" stroke-width="1.5" fill="none"/>
<circle cx="178.01" cy="109.77" r="1.5" fill="#ffa010"/>
<path d="M182.61 114.42V123.7M180.31 119.06H184.91" stroke="#ffa010" stroke-width="1.5" fill="none"/>
<circle cx="182.61" cy="119.06" r="1.5" fill="#ffa010"/>
<path d="M187.21 107.85V120.98M184.91 114.42H189.51" stroke="#ffa010" stroke-width="1.5" fill="none"/>
<circle cx="187.21" cy="114.42" r="1.5" fill="#ffa010"/>
<path d="M196.4 114.42V123.7M194.11 119.06H198.7" stroke="#ffa010" stroke-width="1.5" fill="none"/>
<circle cx="196.4" cy="119.06" r="1.5" fill="#ffa010"/>
</g>
<path d="M19.4 123.7h5M19.4 119.06h2.5M19.4 114.42h2.5M19.4 109.77h2.5M19.4 105.13h2.5M19.4 100.49h5M19.4 95.85h2.5M19.4 91.2h2.5M19.4 86.56h2.5M19.4 81.92h2.5M19.4 77.28h5M19.4 72.63h2.5M19.4 67.99h2.5M19.4 63.35h2.5M19.4 58.71h2.5M19.4 54.07h5M19.4 49.42h2.5M19.4 44.78h2.5M19.4 40.14h2.5M19.4 35.5h2.5M19.4 30.85h5M19.4 26.21h2.5M19.4 21.57h2.5M19.4 16.93h2.5M19.4 12.28h2.5M19.4 7.64h5M19.4 3h2.5M19.4 123.7v-3.5M24 123.7v-1.75M28.59 123.7v-1.75M33.19 123.7v-1.75M37.79 123.7v-3.5M42.39 123.7v-1.75M46.98 123.7v-1.75M51.58 123.7v-1.75M56.18 123.7v-3.5M60.78 123.7v-1.75M65.38 123.7v-1.75M69.97 123.7v-1.75M74.57 123.7v-3.5M79.17 123.7v-1.75M83.77 123.7v-1.75M88.36 123.7v-1.75M92.96 123.7v-3.5M97.56 123.7v-1.75M102.16 123.7v-1.75M106.75 123.7v-1.75M111.35 123.7v-3.5M115.95 123.7v-1.75M120.55 123.7v-1.75M125.14 123.7v-1.75M129.74 123.7v-3.5M134.34 123.7v-1.75M138.94 123.7v-1.75M143.53 123.7v-1.75M148.13 123.7v-3.5M152.73 123.7v-1.75M157.33 123.7v-1.75M161.92 123.7v-1.75M166.52 123.7v-3.5M171.12 123.7v-1.75M175.72 123.7v-1.75M180.31 123.7v-1.75M184.91 123.7v-3.5M189.51 123.7v-1.75M194.11 123.7v-1.75M198.7 123.7v-1.75M203.3 123.7v-3.5" stroke="#444" stroke-width="0.8" fill="none"/>
<g font-size="8.4"><text x="17.8" y="127.4" text-anchor="end">0</text><text x="17.8" y="104.18" text-anchor="end">5</text><text x="17.8" y="80.97" text-anchor="end">10</text><text x="17.8" y="57.76" text-anchor="end">15</text><text x="17.8" y="34.55" text-anchor="end">20</text><text x="17.8" y="11.34" text-anchor="end">25</text><text x="19.4" y="133.2" text-anchor="middle">0</text><text x="37.79" y="133.2" text-anchor="middle">0.2</text><text x="56.18" y="133.2" text-anchor="middle">0.4</text><text x="74.57" y="133.2" text-anchor="middle">0.6</text><text x="92.96" y="133.2" text-anchor="middle">0.8</text><text x="111.35" y="133.2" text-anchor="middle">1</text><text x="129.74" y="133.2" text-anchor="middle">1.2</text><text x="148.13" y="133.2" text-anchor="middle">1.4</text><text x="166.52" y="133.2" text-anchor="middle">1.6</text><text x="184.91" y="133.2" text-anchor="middle">1.8</text><text x="203.3" y="133.2" text-anchor="middle">2</text></g>
<text x="203.2" y="142" text-anchor="end" font-size="8.9">Reconstructed Neutrino Energy [GeV]</text>
<text transform="translate(6.4 2.4) rotate(-90)" text-anchor="end" font-size="8.8">Events per Bin</text>
<rect x="204" y="3" width="7.2" height="6.59" fill="#01e9ef"/>
<rect x="204" y="9.09" width="7.2" height="6.59" fill="#01dfe9"/>
<rect x="204" y="15.18" width="7.2" height="6.59" fill="#04d5e3"/>
<rect x="204" y="21.27" width="7.2" height="6.59" fill="#07cbdd"/>
<rect x="204" y="27.36" width="7.2" height="6.59" fill="#0ac1d7"/>
<rect x="204" y="33.45" width="7.2" height="6.59" fill="#0eb7d1"/>
<rect x="204" y="39.54" width="7.2" height="6.59" fill="#12adcb"/>
<rect x="204" y="45.63" width="7.2" height="6.59" fill="#16a3c5"/>
<rect x="204" y="51.72" width="7.2" height="6.59" fill="#1a98bf"/>
<rect x="204" y="57.81" width="7.2" height="6.59" fill="#1e8eb9"/>
<rect x="204" y="63.9" width="7.2" height="6.59" fill="#2282b3"/>
<rect x="204" y="69.99" width="7.2" height="6.59" fill="#2478ad"/>
<rect x="204" y="76.08" width="7.2" height="6.59" fill="#266ca7"/>
<rect x="204" y="82.17" width="7.2" height="6.59" fill="#2862a1"/>
<rect x="204" y="88.26" width="7.2" height="6.59" fill="#27569a"/>
<rect x="204" y="94.35" width="7.2" height="6.59" fill="#254892"/>
<rect x="204" y="100.44" width="7.2" height="6.59" fill="#223b8a"/>
<rect x="204" y="106.53" width="7.2" height="6.59" fill="#202e80"/>
<rect x="204" y="112.62" width="7.2" height="6.59" fill="#1c2378"/>
<rect x="204" y="118.71" width="7.2" height="6.09" fill="#1a1970"/>
<path d="M206.2 124.8H211.2M206.2 112.62H211.2M206.2 100.44H211.2M206.2 88.26H211.2M206.2 76.08H211.2M206.2 63.9H211.2M206.2 51.72H211.2M206.2 39.54H211.2M206.2 27.36H211.2M206.2 15.18H211.2" stroke="#10104a" stroke-width="0.7" fill="none"/>
<g font-size="5"><text x="212.1" y="126.6">0</text><text x="212.1" y="114.42">10</text><text x="212.1" y="102.24">20</text><text x="212.1" y="90.06">30</text><text x="212.1" y="77.88">40</text><text x="212.1" y="65.7">50</text><text x="212.1" y="53.52">60</text><text x="212.1" y="41.34">70</text><text x="212.1" y="29.16">80</text><text x="212.1" y="16.98">90</text><text x="212.1" y="4.8">100</text></g>
<path d="M109.8 14.4H123.6" stroke="#ee1111" stroke-width="1.3"/>
<path d="M109.8 26.3H123.6" stroke="#ffa010" stroke-width="1.3"/>
<circle cx="116.7" cy="26.3" r="1.6" fill="#ffa010"/>
<g font-family="Liberation Serif, serif" font-size="9.7" stroke="#1a1a1a" stroke-width="0.25"><text x="126.5" y="16.8">Mean prediction</text><text x="126.5" y="28.9">Data</text></g>
<text x="72.2" y="162.6" font-family="Liberation Serif, serif" font-size="12.2" stroke="#1a1a1a" stroke-width="0.25">(a) <tspan font-style="italic">ν</tspan>-mode 1R<tspan font-style="italic" dx="0.8">μ</tspan></text>
<clipPath id="cb"><rect x="251.9" y="3.3" width="183.5" height="120"/></clipPath>
<path d="M251.9 3.3H435.4V123.3" stroke="#b8b8b8" stroke-width="1.3" fill="none"/>
<path d="M251.9 3.3V123.3H435.4" stroke="#444" stroke-width="0.9" fill="none"/>
<g clip-path="url(#cb)">
<rect x="266.02" y="112.5" width="7.36" height="2.76" fill="#1a1a71"/>
<rect x="266.02" y="114.66" width="7.36" height="2.76" fill="#0cbcd4"/>
<rect x="266.02" y="116.82" width="7.36" height="2.76" fill="#00eef2"/>
<rect x="266.02" y="118.98" width="7.36" height="2.76" fill="#01e4ec"/>
<rect x="266.02" y="121.14" width="7.36" height="2.16" fill="#1a1a71"/>
<rect x="273.07" y="86.19" width="7.36" height="2.81" fill="#b4b4d8"/>
<rect x="273.07" y="88.4" width="7.36" height="2.81" fill="#18146c"/>
<rect x="273.07" y="90.61" width="7.36" height="2.81" fill="#213585"/>
<rect x="273.07" y="92.82" width="7.36" height="2.81" fill="#1c93bc"/>
<rect x="273.07" y="95.03" width="7.36" height="2.81" fill="#02dae6"/>
<rect x="273.07" y="97.24" width="7.36" height="7.23" fill="#00eef2"/>
<rect x="273.07" y="103.88" width="7.36" height="2.81" fill="#10b2ce"/>
<rect x="273.07" y="106.09" width="7.36" height="2.21" fill="#1a1a71"/>
<rect x="280.13" y="80.44" width="7.36" height="2.72" fill="#b4b4d8"/>
<rect x="280.13" y="82.56" width="7.36" height="2.72" fill="#18146c"/>
<rect x="280.13" y="84.69" width="7.36" height="2.72" fill="#1b1e74"/>
<rect x="280.13" y="86.81" width="7.36" height="2.72" fill="#2767a4"/>
<rect x="280.13" y="88.93" width="7.36" height="2.72" fill="#0cbcd4"/>
<rect x="280.13" y="91.05" width="7.36" height="2.72" fill="#01e4ec"/>
<rect x="280.13" y="93.17" width="7.36" height="6.96" fill="#00eef2"/>
<rect x="280.13" y="99.54" width="7.36" height="2.72" fill="#08c6da"/>
<rect x="280.13" y="101.66" width="7.36" height="2.72" fill="#237db0"/>
<rect x="280.13" y="103.78" width="7.36" height="2.12" fill="#1a1a71"/>
<rect x="287.19" y="73.76" width="7.36" height="2.75" fill="#1a1a71"/>
<rect x="287.19" y="75.91" width="7.36" height="2.75" fill="#18146c"/>
<rect x="287.19" y="78.06" width="7.36" height="2.75" fill="#1b1e74"/>
<rect x="287.19" y="80.21" width="7.36" height="2.75" fill="#264f96"/>
<rect x="287.19" y="82.35" width="7.36" height="2.75" fill="#14a8c8"/>
<rect x="287.19" y="84.5" width="7.36" height="2.75" fill="#02dae6"/>
<rect x="287.19" y="86.65" width="7.36" height="7.05" fill="#00eef2"/>
<rect x="287.19" y="93.1" width="7.36" height="2.75" fill="#01e4ec"/>
<rect x="287.19" y="95.25" width="7.36" height="2.75" fill="#0cbcd4"/>
<rect x="287.19" y="97.4" width="7.36" height="2.75" fill="#2767a4"/>
<rect x="287.19" y="99.55" width="7.36" height="2.15" fill="#1a1a71"/>
<rect x="294.25" y="65.01" width="7.36" height="2.72" fill="#1a1a71"/>
<rect x="294.25" y="67.13" width="7.36" height="2.72" fill="#18146c"/>
<rect x="294.25" y="69.25" width="7.36" height="2.72" fill="#1b1e74"/>
<rect x="294.25" y="71.37" width="7.36" height="2.72" fill="#285c9e"/>
<rect x="294.25" y="73.49" width="7.36" height="2.72" fill="#14a8c8"/>
<rect x="294.25" y="75.61" width="7.36" height="2.72" fill="#02dae6"/>
<rect x="294.25" y="77.73" width="7.36" height="9.08" fill="#00eef2"/>
<rect x="294.25" y="86.21" width="7.36" height="2.72" fill="#02dae6"/>
<rect x="294.25" y="88.33" width="7.36" height="2.72" fill="#0cbcd4"/>
<rect x="294.25" y="90.45" width="7.36" height="2.72" fill="#237db0"/>
<rect x="294.25" y="92.57" width="7.36" height="2.72" fill="#24428e"/>
<rect x="294.25" y="94.69" width="7.36" height="2.12" fill="#1a1a71"/>
<rect x="294.25" y="61.37" width="7.06" height="2.14" fill="#19186f"/>
<rect x="301.3" y="51.3" width="7.36" height="2.73" fill="#b4b4d8"/>
<rect x="301.3" y="53.43" width="7.36" height="4.86" fill="#18146c"/>
<rect x="301.3" y="57.69" width="7.36" height="2.73" fill="#1b1e74"/>
<rect x="301.3" y="59.81" width="7.36" height="2.73" fill="#24428e"/>
<rect x="301.3" y="61.94" width="7.36" height="2.73" fill="#2088b6"/>
<rect x="301.3" y="64.07" width="7.36" height="2.73" fill="#0cbcd4"/>
<rect x="301.3" y="66.2" width="7.36" height="2.73" fill="#01e4ec"/>
<rect x="301.3" y="68.33" width="7.36" height="9.11" fill="#00eef2"/>
<rect x="301.3" y="76.84" width="7.36" height="2.73" fill="#01e4ec"/>
<rect x="301.3" y="78.97" width="7.36" height="2.73" fill="#05d0e0"/>
<rect x="301.3" y="81.1" width="7.36" height="2.73" fill="#10b2ce"/>
<rect x="301.3" y="83.23" width="7.36" height="2.73" fill="#2672aa"/>
<rect x="301.3" y="85.36" width="7.36" height="2.73" fill="#24428e"/>
<rect x="301.3" y="87.49" width="7.36" height="2.13" fill="#1a1a71"/>
<rect x="308.36" y="38.44" width="7.36" height="2.74" fill="#b4b4d8"/>
<rect x="308.36" y="40.59" width="7.36" height="4.89" fill="#18146c"/>
<rect x="308.36" y="44.87" width="7.36" height="2.74" fill="#1b1e74"/>
<rect x="308.36" y="47.01" width="7.36" height="2.74" fill="#213585"/>
<rect x="308.36" y="49.16" width="7.36" height="2.74" fill="#2672aa"/>
<rect x="308.36" y="51.3" width="7.36" height="2.74" fill="#14a8c8"/>
<rect x="308.36" y="53.44" width="7.36" height="2.74" fill="#02dae6"/>
<rect x="308.36" y="55.59" width="7.36" height="2.74" fill="#01e4ec"/>
<rect x="308.36" y="57.73" width="7.36" height="9.17" fill="#00eef2"/>
<rect x="308.36" y="66.3" width="7.36" height="2.74" fill="#01e4ec"/>
<rect x="308.36" y="68.44" width="7.36" height="2.74" fill="#02dae6"/>
<rect x="308.36" y="70.59" width="7.36" height="2.74" fill="#0cbcd4"/>
<rect x="308.36" y="72.73" width="7.36" height="2.74" fill="#1c93bc"/>
<rect x="308.36" y="74.87" width="7.36" height="2.74" fill="#285c9e"/>
<rect x="308.36" y="77.01" width="7.36" height="2.74" fill="#213585"/>
<rect x="308.36" y="79.16" width="7.36" height="2.14" fill="#1a1a71"/>
<rect x="308.36" y="34.46" width="7.06" height="2.14" fill="#19186f"/>
<rect x="315.42" y="28.33" width="7.36" height="2.74" fill="#b4b4d8"/>
<rect x="315.42" y="30.46" width="7.36" height="7.01" fill="#18146c"/>
<rect x="315.42" y="36.87" width="7.36" height="2.74" fill="#1b1e74"/>
<rect x="315.42" y="39" width="7.36" height="2.74" fill="#24428e"/>
<rect x="315.42" y="41.14" width="7.36" height="2.74" fill="#2672aa"/>
<rect x="315.42" y="43.27" width="7.36" height="2.74" fill="#14a8c8"/>
<rect x="315.42" y="45.41" width="7.36" height="2.74" fill="#05d0e0"/>
<rect x="315.42" y="47.54" width="7.36" height="2.74" fill="#01e4ec"/>
<rect x="315.42" y="49.68" width="7.36" height="11.28" fill="#00eef2"/>
<rect x="315.42" y="60.35" width="7.36" height="2.74" fill="#01e4ec"/>
<rect x="315.42" y="62.49" width="7.36" height="2.74" fill="#05d0e0"/>
<rect x="315.42" y="64.62" width="7.36" height="2.74" fill="#10b2ce"/>
<rect x="315.42" y="66.76" width="7.36" height="2.74" fill="#2088b6"/>
<rect x="315.42" y="68.89" width="7.36" height="2.74" fill="#285c9e"/>
<rect x="315.42" y="71.03" width="7.36" height="2.74" fill="#1e287c"/>
<rect x="315.42" y="73.16" width="7.36" height="2.14" fill="#1a1a71"/>
<rect x="315.42" y="23.66" width="7.06" height="2.14" fill="#19186f"/>
<rect x="322.48" y="21.73" width="7.36" height="2.72" fill="#1a1a71"/>
<rect x="322.48" y="23.85" width="7.36" height="2.72" fill="#b4b4d8"/>
<rect x="322.48" y="25.98" width="7.36" height="4.85" fill="#18146c"/>
<rect x="322.48" y="30.23" width="7.36" height="2.72" fill="#1b1e74"/>
<rect x="322.48" y="32.35" width="7.36" height="2.72" fill="#213585"/>
<rect x="322.48" y="34.47" width="7.36" height="2.72" fill="#2767a4"/>
<rect x="322.48" y="36.6" width="7.36" height="2.72" fill="#189ec2"/>
<rect x="322.48" y="38.72" width="7.36" height="2.72" fill="#08c6da"/>
<rect x="322.48" y="40.85" width="7.36" height="2.72" fill="#01e4ec"/>
<rect x="322.48" y="42.97" width="7.36" height="11.22" fill="#00eef2"/>
<rect x="322.48" y="53.59" width="7.36" height="2.72" fill="#01e4ec"/>
<rect x="322.48" y="55.72" width="7.36" height="2.72" fill="#02dae6"/>
<rect x="322.48" y="57.84" width="7.36" height="2.72" fill="#08c6da"/>
<rect x="322.48" y="59.96" width="7.36" height="2.72" fill="#14a8c8"/>
<rect x="322.48" y="62.09" width="7.36" height="2.72" fill="#237db0"/>
<rect x="322.48" y="64.21" width="7.36" height="2.72" fill="#264f96"/>
<rect x="322.48" y="66.34" width="7.36" height="2.72" fill="#1e287c"/>
<rect x="322.48" y="68.46" width="7.36" height="2.12" fill="#1a1a71"/>
<rect x="322.48" y="16.89" width="7.06" height="2.14" fill="#19186f"/>
<rect x="329.53" y="16.16" width="7.36" height="2.74" fill="#b4b4d8"/>
<rect x="329.53" y="18.3" width="7.36" height="9.17" fill="#18146c"/>
<rect x="329.53" y="26.87" width="7.36" height="2.74" fill="#1e287c"/>
<rect x="329.53" y="29.01" width="7.36" height="2.74" fill="#264f96"/>
<rect x="329.53" y="31.16" width="7.36" height="2.74" fill="#237db0"/>
<rect x="329.53" y="33.3" width="7.36" height="2.74" fill="#10b2ce"/>
<rect x="329.53" y="35.44" width="7.36" height="2.74" fill="#05d0e0"/>
<rect x="329.53" y="37.59" width="7.36" height="2.74" fill="#01e4ec"/>
<rect x="329.53" y="39.73" width="7.36" height="13.46" fill="#00eef2"/>
<rect x="329.53" y="52.59" width="7.36" height="2.74" fill="#02dae6"/>
<rect x="329.53" y="54.73" width="7.36" height="2.74" fill="#08c6da"/>
<rect x="329.53" y="56.87" width="7.36" height="2.74" fill="#14a8c8"/>
<rect x="329.53" y="59.01" width="7.36" height="2.74" fill="#237db0"/>
<rect x="329.53" y="61.16" width="7.36" height="2.74" fill="#264f96"/>
<rect x="329.53" y="63.3" width="7.36" height="2.74" fill="#1e287c"/>
<rect x="329.53" y="65.44" width="7.36" height="2.14" fill="#1a1a71"/>
<rect x="336.59" y="21.3" width="7.36" height="2.72" fill="#1a1a71"/>
<rect x="336.59" y="23.42" width="7.36" height="2.72" fill="#b4b4d8"/>
<rect x="336.59" y="25.55" width="7.36" height="4.85" fill="#18146c"/>
<rect x="336.59" y="29.8" width="7.36" height="2.72" fill="#1b1e74"/>
<rect x="336.59" y="31.92" width="7.36" height="2.72" fill="#213585"/>
<rect x="336.59" y="34.05" width="7.36" height="2.72" fill="#285c9e"/>
<rect x="336.59" y="36.17" width="7.36" height="2.72" fill="#1c93bc"/>
<rect x="336.59" y="38.29" width="7.36" height="2.72" fill="#0cbcd4"/>
<rect x="336.59" y="40.42" width="7.36" height="2.72" fill="#02dae6"/>
<rect x="336.59" y="42.54" width="7.36" height="2.72" fill="#01e4ec"/>
<rect x="336.59" y="44.67" width="7.36" height="11.22" fill="#00eef2"/>
<rect x="336.59" y="55.29" width="7.36" height="2.72" fill="#01e4ec"/>
<rect x="336.59" y="57.41" width="7.36" height="2.72" fill="#05d0e0"/>
<rect x="336.59" y="59.54" width="7.36" height="2.72" fill="#10b2ce"/>
<rect x="336.59" y="61.66" width="7.36" height="2.72" fill="#2088b6"/>
<rect x="336.59" y="63.78" width="7.36" height="2.72" fill="#285c9e"/>
<rect x="336.59" y="65.91" width="7.36" height="2.72" fill="#1e287c"/>
<rect x="336.59" y="68.03" width="7.36" height="2.12" fill="#1a1a71"/>
<rect x="343.65" y="34.16" width="7.36" height="2.79" fill="#b4b4d8"/>
<rect x="343.65" y="36.34" width="7.36" height="7.16" fill="#18146c"/>
<rect x="343.65" y="42.9" width="7.36" height="2.79" fill="#1e287c"/>
<rect x="343.65" y="45.09" width="7.36" height="2.79" fill="#285c9e"/>
<rect x="343.65" y="47.27" width="7.36" height="2.79" fill="#1c93bc"/>
<rect x="343.65" y="49.46" width="7.36" height="2.79" fill="#08c6da"/>
<rect x="343.65" y="51.64" width="7.36" height="2.79" fill="#01e4ec"/>
<rect x="343.65" y="53.83" width="7.36" height="11.53" fill="#00eef2"/>
<rect x="343.65" y="64.76" width="7.36" height="2.79" fill="#02dae6"/>
<rect x="343.65" y="66.94" width="7.36" height="2.79" fill="#08c6da"/>
<rect x="343.65" y="69.13" width="7.36" height="2.79" fill="#189ec2"/>
<rect x="343.65" y="71.31" width="7.36" height="2.79" fill="#2767a4"/>
<rect x="343.65" y="73.5" width="7.36" height="2.79" fill="#213585"/>
<rect x="343.65" y="75.69" width="7.36" height="2.19" fill="#1a1a71"/>
<rect x="350.71" y="50.19" width="7.36" height="2.75" fill="#1a1a71"/>
<rect x="350.71" y="52.33" width="7.36" height="4.9" fill="#18146c"/>
<rect x="350.71" y="56.63" width="7.36" height="2.75" fill="#1b1e74"/>
<rect x="350.71" y="58.78" width="7.36" height="2.75" fill="#264f96"/>
<rect x="350.71" y="60.93" width="7.36" height="2.75" fill="#189ec2"/>
<rect x="350.71" y="63.07" width="7.36" height="2.75" fill="#05d0e0"/>
<rect x="350.71" y="65.22" width="7.36" height="2.75" fill="#01e4ec"/>
<rect x="350.71" y="67.37" width="7.36" height="9.19" fill="#00eef2"/>
<rect x="350.71" y="75.96" width="7.36" height="2.75" fill="#02dae6"/>
<rect x="350.71" y="78.11" width="7.36" height="2.75" fill="#0cbcd4"/>
<rect x="350.71" y="80.26" width="7.36" height="2.75" fill="#237db0"/>
<rect x="350.71" y="82.4" width="7.36" height="2.75" fill="#24428e"/>
<rect x="350.71" y="84.55" width="7.36" height="2.15" fill="#1a1a71"/>
<rect x="357.77" y="65.27" width="7.36" height="2.78" fill="#b4b4d8"/>
<rect x="357.77" y="67.45" width="7.36" height="2.78" fill="#18146c"/>
<rect x="357.77" y="69.63" width="7.36" height="2.78" fill="#1b1e74"/>
<rect x="357.77" y="71.81" width="7.36" height="2.78" fill="#285c9e"/>
<rect x="357.77" y="73.99" width="7.36" height="2.78" fill="#14a8c8"/>
<rect x="357.77" y="76.17" width="7.36" height="2.78" fill="#02dae6"/>
<rect x="357.77" y="78.35" width="7.36" height="7.14" fill="#00eef2"/>
<rect x="357.77" y="84.89" width="7.36" height="2.78" fill="#01e4ec"/>
<rect x="357.77" y="87.07" width="7.36" height="2.78" fill="#05d0e0"/>
<rect x="357.77" y="89.25" width="7.36" height="2.78" fill="#189ec2"/>
<rect x="357.77" y="91.43" width="7.36" height="2.78" fill="#264f96"/>
<rect x="357.77" y="93.61" width="7.36" height="2.18" fill="#1a1a71"/>
<rect x="364.82" y="78.81" width="7.36" height="2.74" fill="#1a1a71"/>
<rect x="364.82" y="80.95" width="7.36" height="2.74" fill="#18146c"/>
<rect x="364.82" y="83.08" width="7.36" height="2.74" fill="#285c9e"/>
<rect x="364.82" y="85.22" width="7.36" height="2.74" fill="#0cbcd4"/>
<rect x="364.82" y="87.35" width="7.36" height="7.01" fill="#00eef2"/>
<rect x="364.82" y="93.76" width="7.36" height="2.74" fill="#01e4ec"/>
<rect x="364.82" y="95.89" width="7.36" height="2.74" fill="#0cbcd4"/>
<rect x="364.82" y="98.03" width="7.36" height="2.74" fill="#2767a4"/>
<rect x="364.82" y="100.16" width="7.36" height="2.14" fill="#1a1a71"/>
<rect x="371.88" y="90.13" width="7.36" height="2.64" fill="#1a1a71"/>
<rect x="371.88" y="92.17" width="7.36" height="2.64" fill="#264f96"/>
<rect x="371.88" y="94.2" width="7.36" height="2.64" fill="#08c6da"/>
<rect x="371.88" y="96.24" width="7.36" height="6.71" fill="#00eef2"/>
<rect x="371.88" y="102.36" width="7.36" height="2.64" fill="#08c6da"/>
<rect x="371.88" y="104.4" width="7.36" height="2.64" fill="#237db0"/>
<rect x="371.88" y="106.43" width="7.36" height="2.04" fill="#1a1a71"/>
<rect x="378.94" y="96.3" width="7.36" height="2.6" fill="#1a1a71"/>
<rect x="378.94" y="98.3" width="7.36" height="2.6" fill="#24428e"/>
<rect x="378.94" y="100.29" width="7.36" height="2.6" fill="#0cbcd4"/>
<rect x="378.94" y="102.29" width="7.36" height="4.59" fill="#00eef2"/>
<rect x="378.94" y="106.28" width="7.36" height="2.6" fill="#02dae6"/>
<rect x="378.94" y="108.28" width="7.36" height="2" fill="#1a1a71"/>
<rect x="386" y="103.33" width="7.36" height="2.62" fill="#1a1a71"/>
<rect x="386" y="105.35" width="7.36" height="2.62" fill="#02dae6"/>
<rect x="386" y="107.37" width="7.36" height="2.62" fill="#00eef2"/>
<rect x="386" y="109.4" width="7.36" height="2.62" fill="#02dae6"/>
<rect x="386" y="111.42" width="7.36" height="2.02" fill="#1a1a71"/>
<rect x="393.05" y="106.41" width="7.36" height="2.89" fill="#1a1a71"/>
<rect x="393.05" y="108.71" width="7.36" height="2.89" fill="#01e4ec"/>
<rect x="393.05" y="111" width="7.36" height="2.89" fill="#00eef2"/>
<rect x="393.05" y="113.29" width="7.36" height="2.29" fill="#1a1a71"/>
<rect x="400.11" y="110.27" width="7.36" height="2.49" fill="#1a1a71"/>
<rect x="400.11" y="112.16" width="7.36" height="4.37" fill="#00eef2"/>
<rect x="400.11" y="115.93" width="7.36" height="1.89" fill="#1a1a71"/>
<rect x="407.17" y="113.01" width="7.36" height="2.46" fill="#1a1a71"/>
<rect x="407.17" y="114.87" width="7.36" height="2.46" fill="#00eef2"/>
<rect x="407.17" y="116.73" width="7.36" height="1.86" fill="#1a1a71"/>
<rect x="414.23" y="114.3" width="7.36" height="2.34" fill="#1a1a71"/>
<rect x="414.23" y="116.04" width="7.36" height="2.34" fill="#00eef2"/>
<rect x="414.23" y="117.79" width="7.36" height="1.74" fill="#1a1a71"/>
<rect x="421.28" y="115.07" width="7.36" height="2.09" fill="#1a1a71"/>
<rect x="421.28" y="116.56" width="7.36" height="2.09" fill="#00eef2"/>
<rect x="421.28" y="118.04" width="7.36" height="1.49" fill="#1a1a71"/>
</g><clipPath id="rb"><rect x="251.9" y="3.3" width="183.5" height="121"/></clipPath><g clip-path="url(#rb)">
<path d="M251.9 123.3 L258.96 123.3 L258.96 123.3 L266.02 123.3 L266.02 118.5 L273.07 118.5 L273.07 100.5 L280.13 100.5 L280.13 95.61 L287.19 95.61 L287.19 90.21 L294.25 90.21 L294.25 80.96 L301.3 80.96 L301.3 72.73 L308.36 72.73 L308.36 61.24 L315.42 61.24 L315.42 54.39 L322.48 54.39 L322.48 48.39 L329.53 48.39 L329.53 45.39 L336.59 45.39 L336.59 48.99 L343.65 48.99 L343.65 58.67 L350.71 58.67 L350.71 70.67 L357.77 70.67 L357.77 81.73 L364.82 81.73 L364.82 90.9 L371.88 90.9 L371.88 98.44 L378.94 98.44 L378.94 104.87 L386 104.87 L386 108.13 L393.05 108.13 L393.05 111.21 L400.11 111.21 L400.11 113.87 L407.17 113.87 L407.17 115.07 L414.23 115.07 L414.23 116.53 L421.28 116.53 L421.28 117.3 L428.34 117.3 L428.34 123.3" fill="none" stroke="#ee1111" stroke-width="1.3"/>
<path d="M269.54 94.04V118.28M266.02 106.16H273.07" stroke="#ffa010" stroke-width="1.5" fill="none"/>
<circle cx="269.54" cy="106.16" r="1.5" fill="#ffa010"/>
<path d="M276.6 61.28V99.61M273.07 80.44H280.13" stroke="#ffa010" stroke-width="1.5" fill="none"/>
<circle cx="276.6" cy="80.44" r="1.5" fill="#ffa010"/>
<path d="M283.66 82.74V112.43M280.13 97.59H287.19" stroke="#ffa010" stroke-width="1.5" fill="none"/>
<circle cx="283.66" cy="97.59" r="1.5" fill="#ffa010"/>
<path d="M290.72 71.87V106.16M287.19 89.01H294.25" stroke="#ffa010" stroke-width="1.5" fill="none"/>
<circle cx="290.72" cy="89.01" r="1.5" fill="#ffa010"/>
<path d="M297.77 106.16V123.3M294.25 114.73H301.3" stroke="#ffa010" stroke-width="1.5" fill="none"/>
<circle cx="297.77" cy="114.73" r="1.5" fill="#ffa010"/>
<path d="M304.83 20.44V71.87M301.3 46.16H308.36" stroke="#ffa010" stroke-width="1.5" fill="none"/>
<circle cx="304.83" cy="46.16" r="1.5" fill="#ffa010"/>
<path d="M311.89 50.88V92.87M308.36 71.87H315.42" stroke="#ffa010" stroke-width="1.5" fill="none"/>
<circle cx="311.89" cy="71.87" r="1.5" fill="#ffa010"/>
<path d="M318.95 30.48V78.97M315.42 54.73H322.48" stroke="#ffa010" stroke-width="1.5" fill="none"/>
<circle cx="318.95" cy="54.73" r="1.5" fill="#ffa010"/>
<path d="M326.01 0.59V57.44M322.48 29.01H329.53" stroke="#ffa010" stroke-width="1.5" fill="none"/>
<circle cx="326.01" cy="29.01" r="1.5" fill="#ffa010"/>
<path d="M333.06 71.87V106.16M329.53 89.01H336.59" stroke="#ffa010" stroke-width="1.5" fill="none"/>
<circle cx="333.06" cy="89.01" r="1.5" fill="#ffa010"/>
<path d="M340.12 71.87V106.16M336.59 89.01H343.65" stroke="#ffa010" stroke-width="1.5" fill="none"/>
<circle cx="340.12" cy="89.01" r="1.5" fill="#ffa010"/>
<path d="M347.18 20.44V71.87M343.65 46.16H350.71" stroke="#ffa010" stroke-width="1.5" fill="none"/>
<circle cx="347.18" cy="46.16" r="1.5" fill="#ffa010"/>
<path d="M354.24 71.87V106.16M350.71 89.01H357.77" stroke="#ffa010" stroke-width="1.5" fill="none"/>
<circle cx="354.24" cy="89.01" r="1.5" fill="#ffa010"/>
<path d="M361.29 20.44V71.87M357.77 46.16H364.82" stroke="#ffa010" stroke-width="1.5" fill="none"/>
<circle cx="361.29" cy="46.16" r="1.5" fill="#ffa010"/>
<path d="M368.35 71.87V106.16M364.82 89.01H371.88" stroke="#ffa010" stroke-width="1.5" fill="none"/>
<circle cx="368.35" cy="89.01" r="1.5" fill="#ffa010"/>
<path d="M375.41 71.87V106.16M371.88 89.01H378.94" stroke="#ffa010" stroke-width="1.5" fill="none"/>
<circle cx="375.41" cy="89.01" r="1.5" fill="#ffa010"/>
<path d="M382.47 71.87V106.16M378.94 89.01H386" stroke="#ffa010" stroke-width="1.5" fill="none"/>
<circle cx="382.47" cy="89.01" r="1.5" fill="#ffa010"/>
<path d="M389.52 106.16V123.3M386 114.73H393.05" stroke="#ffa010" stroke-width="1.5" fill="none"/>
<circle cx="389.52" cy="114.73" r="1.5" fill="#ffa010"/>
<path d="M410.7 106.16V123.3M407.17 114.73H414.23" stroke="#ffa010" stroke-width="1.5" fill="none"/>
<circle cx="410.7" cy="114.73" r="1.5" fill="#ffa010"/>
<path d="M417.76 106.16V123.3M414.23 114.73H421.28" stroke="#ffa010" stroke-width="1.5" fill="none"/>
<circle cx="417.76" cy="114.73" r="1.5" fill="#ffa010"/>
</g>
<path d="M251.9 123.3h5M251.9 119.01h2.5M251.9 114.73h2.5M251.9 110.44h2.5M251.9 106.16h5M251.9 101.87h2.5M251.9 97.59h2.5M251.9 93.3h2.5M251.9 89.01h5M251.9 84.73h2.5M251.9 80.44h2.5M251.9 76.16h2.5M251.9 71.87h5M251.9 67.59h2.5M251.9 63.3h2.5M251.9 59.01h2.5M251.9 54.73h5M251.9 50.44h2.5M251.9 46.16h2.5M251.9 41.87h2.5M251.9 37.59h5M251.9 33.3h2.5M251.9 29.01h2.5M251.9 24.73h2.5M251.9 20.44h5M251.9 16.16h2.5M251.9 11.87h2.5M251.9 7.59h2.5M251.9 3.3h5M251.9 123.3v-3.5M258.96 123.3v-1.75M266.02 123.3v-1.75M273.07 123.3v-1.75M280.13 123.3v-3.5M287.19 123.3v-1.75M294.25 123.3v-1.75M301.3 123.3v-1.75M308.36 123.3v-3.5M315.42 123.3v-1.75M322.48 123.3v-1.75M329.53 123.3v-1.75M336.59 123.3v-3.5M343.65 123.3v-1.75M350.71 123.3v-1.75M357.77 123.3v-1.75M364.82 123.3v-3.5M371.88 123.3v-1.75M378.94 123.3v-1.75M386 123.3v-1.75M393.05 123.3v-3.5M400.11 123.3v-1.75M407.17 123.3v-1.75M414.23 123.3v-1.75M421.28 123.3v-3.5M428.34 123.3v-1.75M435.4 123.3v-1.75" stroke="#444" stroke-width="0.8" fill="none"/>
<g font-size="8.4"><text x="250.3" y="127" text-anchor="end">0</text><text x="250.3" y="109.85" text-anchor="end">2</text><text x="250.3" y="92.71" text-anchor="end">4</text><text x="250.3" y="75.57" text-anchor="end">6</text><text x="250.3" y="58.42" text-anchor="end">8</text><text x="250.3" y="41.28" text-anchor="end">10</text><text x="250.3" y="24.14" text-anchor="end">12</text><text x="250.3" y="7" text-anchor="end">14</text><text x="251.9" y="132.8" text-anchor="middle">0</text><text x="280.13" y="132.8" text-anchor="middle">0.2</text><text x="308.36" y="132.8" text-anchor="middle">0.4</text><text x="336.59" y="132.8" text-anchor="middle">0.6</text><text x="364.82" y="132.8" text-anchor="middle">0.8</text><text x="393.05" y="132.8" text-anchor="middle">1</text><text x="421.28" y="132.8" text-anchor="middle">1.2</text></g>
<text x="435.3" y="142" text-anchor="end" font-size="8.9">Reconstructed Neutrino Energy [GeV]</text>
<text transform="translate(238.8 3.2) rotate(-90)" text-anchor="end" font-size="8.8">Events per Bin</text>
<rect x="436.2" y="3" width="6.9" height="6.52" fill="#01e9ef"/>
<rect x="436.2" y="9.02" width="6.9" height="6.52" fill="#01dfe9"/>
<rect x="436.2" y="15.04" width="6.9" height="6.52" fill="#04d5e3"/>
<rect x="436.2" y="21.06" width="6.9" height="6.52" fill="#07cbdd"/>
<rect x="436.2" y="27.08" width="6.9" height="6.52" fill="#0ac1d7"/>
<rect x="436.2" y="33.1" width="6.9" height="6.52" fill="#0eb7d1"/>
<rect x="436.2" y="39.12" width="6.9" height="6.52" fill="#12adcb"/>
<rect x="436.2" y="45.14" width="6.9" height="6.52" fill="#16a3c5"/>
<rect x="436.2" y="51.16" width="6.9" height="6.52" fill="#1a98bf"/>
<rect x="436.2" y="57.18" width="6.9" height="6.52" fill="#1e8eb9"/>
<rect x="436.2" y="63.2" width="6.9" height="6.52" fill="#2282b3"/>
<rect x="436.2" y="69.22" width="6.9" height="6.52" fill="#2478ad"/>
<rect x="436.2" y="75.24" width="6.9" height="6.52" fill="#266ca7"/>
<rect x="436.2" y="81.26" width="6.9" height="6.52" fill="#2862a1"/>
<rect x="436.2" y="87.28" width="6.9" height="6.52" fill="#27569a"/>
<rect x="436.2" y="93.3" width="6.9" height="6.52" fill="#254892"/>
<rect x="436.2" y="99.32" width="6.9" height="6.52" fill="#223b8a"/>
<rect x="436.2" y="105.34" width="6.9" height="6.52" fill="#202e80"/>
<rect x="436.2" y="111.36" width="6.9" height="6.52" fill="#1c2378"/>
<rect x="436.2" y="117.38" width="6.9" height="6.02" fill="#1a1970"/>
<path d="M438.1 123.4H443.1M438.1 111.36H443.1M438.1 99.32H443.1M438.1 87.28H443.1M438.1 75.24H443.1M438.1 63.2H443.1M438.1 51.16H443.1M438.1 39.12H443.1M438.1 27.08H443.1M438.1 15.04H443.1" stroke="#10104a" stroke-width="0.7" fill="none"/>
<g font-size="5"><text x="444" y="125.2">0</text><text x="444" y="113.16">10</text><text x="444" y="101.12">20</text><text x="444" y="89.08">30</text><text x="444" y="77.04">40</text><text x="444" y="65">50</text><text x="444" y="52.96">60</text><text x="444" y="40.92">70</text><text x="444" y="28.88">80</text><text x="444" y="16.84">90</text><text x="444" y="4.8">100</text></g>
<path d="M350 9.1H361.7" stroke="#ee1111" stroke-width="1.3"/>
<path d="M350 19.3H361.7" stroke="#ffa010" stroke-width="1.3"/>
<circle cx="355.85" cy="19.3" r="1.6" fill="#ffa010"/>
<g font-family="Liberation Serif, serif" font-size="9.7" stroke="#1a1a1a" stroke-width="0.25"><text x="364.3" y="11.2">Mean prediction</text><text x="364.3" y="21.8">Data</text></g>
<text x="305.6" y="162.5" font-family="Liberation Serif, serif" font-size="12.2" stroke="#1a1a1a" stroke-width="0.25">(b) <tspan font-style="italic">ν</tspan>-mode 1R<tspan font-style="italic">e</tspan></text>
<clipPath id="cc"><rect x="484.3" y="3.2" width="183.3" height="120"/></clipPath>
<path d="M484.3 3.2H667.6V123.2" stroke="#b8b8b8" stroke-width="1.3" fill="none"/>
<path d="M484.3 3.2V123.2H667.6" stroke="#444" stroke-width="0.9" fill="none"/>
<g clip-path="url(#cc)">
<rect x="484.3" y="120.8" width="7.63" height="1.4" fill="#1a1a71"/>
<rect x="484.3" y="121.6" width="7.63" height="1.4" fill="#00eef2"/>
<rect x="484.3" y="122.4" width="7.63" height="0.8" fill="#1a1a71"/>
<rect x="491.63" y="120.8" width="7.63" height="1.4" fill="#1a1a71"/>
<rect x="491.63" y="121.6" width="7.63" height="1.4" fill="#00eef2"/>
<rect x="491.63" y="122.4" width="7.63" height="0.8" fill="#1a1a71"/>
<rect x="498.96" y="120.8" width="7.63" height="1.4" fill="#1a1a71"/>
<rect x="498.96" y="121.6" width="7.63" height="1.4" fill="#00eef2"/>
<rect x="498.96" y="122.4" width="7.63" height="0.8" fill="#1a1a71"/>
<rect x="506.3" y="120.8" width="7.63" height="1.4" fill="#1a1a71"/>
<rect x="506.3" y="121.6" width="7.63" height="1.4" fill="#00eef2"/>
<rect x="506.3" y="122.4" width="7.63" height="0.8" fill="#1a1a71"/>
<rect x="513.63" y="120.8" width="7.63" height="1.4" fill="#1a1a71"/>
<rect x="513.63" y="121.6" width="7.63" height="1.4" fill="#00eef2"/>
<rect x="513.63" y="122.4" width="7.63" height="0.8" fill="#1a1a71"/>
<rect x="520.96" y="120.8" width="7.63" height="1.4" fill="#1a1a71"/>
<rect x="520.96" y="121.6" width="7.63" height="1.4" fill="#00eef2"/>
<rect x="520.96" y="122.4" width="7.63" height="0.8" fill="#1a1a71"/>
<rect x="528.29" y="120.8" width="7.63" height="1.4" fill="#1a1a71"/>
<rect x="528.29" y="121.6" width="7.63" height="1.4" fill="#00eef2"/>
<rect x="528.29" y="122.4" width="7.63" height="0.8" fill="#1a1a71"/>
<rect x="535.62" y="120.8" width="7.63" height="1.4" fill="#1a1a71"/>
<rect x="535.62" y="121.6" width="7.63" height="1.4" fill="#00eef2"/>
<rect x="535.62" y="122.4" width="7.63" height="0.8" fill="#1a1a71"/>
<rect x="542.96" y="116.48" width="7.63" height="2.44" fill="#1a1a71"/>
<rect x="542.96" y="118.32" width="7.63" height="2.44" fill="#02dae6"/>
<rect x="542.96" y="120.16" width="7.63" height="1.84" fill="#1a1a71"/>
<rect x="550.29" y="100.16" width="7.63" height="2.95" fill="#1a1a71"/>
<rect x="550.29" y="102.51" width="7.63" height="2.95" fill="#18146c"/>
<rect x="550.29" y="104.85" width="7.63" height="2.95" fill="#1b1e74"/>
<rect x="550.29" y="107.2" width="7.63" height="2.95" fill="#2088b6"/>
<rect x="550.29" y="109.55" width="7.63" height="2.95" fill="#02dae6"/>
<rect x="550.29" y="111.89" width="7.63" height="5.29" fill="#00eef2"/>
<rect x="550.29" y="116.59" width="7.63" height="2.95" fill="#0cbcd4"/>
<rect x="550.29" y="118.93" width="7.63" height="2.35" fill="#1a1a71"/>
<rect x="557.62" y="93.2" width="7.63" height="2.95" fill="#1a1a71"/>
<rect x="557.62" y="95.55" width="7.63" height="2.95" fill="#18146c"/>
<rect x="557.62" y="97.89" width="7.63" height="2.95" fill="#213585"/>
<rect x="557.62" y="100.24" width="7.63" height="2.95" fill="#14a8c8"/>
<rect x="557.62" y="102.59" width="7.63" height="2.95" fill="#01e4ec"/>
<rect x="557.62" y="104.93" width="7.63" height="5.29" fill="#00eef2"/>
<rect x="557.62" y="109.63" width="7.63" height="2.95" fill="#14a8c8"/>
<rect x="557.62" y="111.97" width="7.63" height="2.35" fill="#1a1a71"/>
<rect x="564.95" y="86.24" width="7.63" height="3.05" fill="#1a1a71"/>
<rect x="564.95" y="88.69" width="7.63" height="3.05" fill="#18146c"/>
<rect x="564.95" y="91.14" width="7.63" height="3.05" fill="#1b1e74"/>
<rect x="564.95" y="93.58" width="7.63" height="3.05" fill="#237db0"/>
<rect x="564.95" y="96.03" width="7.63" height="3.05" fill="#02dae6"/>
<rect x="564.95" y="98.48" width="7.63" height="5.5" fill="#00eef2"/>
<rect x="564.95" y="103.38" width="7.63" height="3.05" fill="#02dae6"/>
<rect x="564.95" y="105.82" width="7.63" height="3.05" fill="#2088b6"/>
<rect x="564.95" y="108.27" width="7.63" height="2.45" fill="#1a1a71"/>
<rect x="572.28" y="78.8" width="7.63" height="2.96" fill="#1a1a71"/>
<rect x="572.28" y="81.16" width="7.63" height="5.33" fill="#18146c"/>
<rect x="572.28" y="85.89" width="7.63" height="2.96" fill="#1b1e74"/>
<rect x="572.28" y="88.25" width="7.63" height="2.96" fill="#2767a4"/>
<rect x="572.28" y="90.62" width="7.63" height="2.96" fill="#0cbcd4"/>
<rect x="572.28" y="92.98" width="7.63" height="2.96" fill="#01e4ec"/>
<rect x="572.28" y="95.34" width="7.63" height="5.33" fill="#00eef2"/>
<rect x="572.28" y="100.07" width="7.63" height="2.96" fill="#01e4ec"/>
<rect x="572.28" y="102.43" width="7.63" height="2.96" fill="#0cbcd4"/>
<rect x="572.28" y="104.79" width="7.63" height="2.96" fill="#285c9e"/>
<rect x="572.28" y="107.16" width="7.63" height="2.36" fill="#1a1a71"/>
<rect x="579.62" y="78.8" width="7.63" height="2.96" fill="#1a1a71"/>
<rect x="579.62" y="81.16" width="7.63" height="5.33" fill="#18146c"/>
<rect x="579.62" y="85.89" width="7.63" height="2.96" fill="#24428e"/>
<rect x="579.62" y="88.25" width="7.63" height="2.96" fill="#14a8c8"/>
<rect x="579.62" y="90.62" width="7.63" height="2.96" fill="#01e4ec"/>
<rect x="579.62" y="92.98" width="7.63" height="7.69" fill="#00eef2"/>
<rect x="579.62" y="100.07" width="7.63" height="2.96" fill="#05d0e0"/>
<rect x="579.62" y="102.43" width="7.63" height="2.96" fill="#1c93bc"/>
<rect x="579.62" y="104.79" width="7.63" height="2.96" fill="#213585"/>
<rect x="579.62" y="107.16" width="7.63" height="2.36" fill="#1a1a71"/>
<rect x="579.62" y="73.04" width="7.33" height="2.4" fill="#19186f"/>
<rect x="586.95" y="78.8" width="7.63" height="2.96" fill="#1a1a71"/>
<rect x="586.95" y="81.16" width="7.63" height="5.33" fill="#18146c"/>
<rect x="586.95" y="85.89" width="7.63" height="2.96" fill="#1e287c"/>
<rect x="586.95" y="88.25" width="7.63" height="2.96" fill="#2088b6"/>
<rect x="586.95" y="90.62" width="7.63" height="2.96" fill="#05d0e0"/>
<rect x="586.95" y="92.98" width="7.63" height="7.69" fill="#00eef2"/>
<rect x="586.95" y="100.07" width="7.63" height="2.96" fill="#02dae6"/>
<rect x="586.95" y="102.43" width="7.63" height="2.96" fill="#14a8c8"/>
<rect x="586.95" y="104.79" width="7.63" height="2.96" fill="#24428e"/>
<rect x="586.95" y="107.16" width="7.63" height="2.36" fill="#1a1a71"/>
<rect x="594.28" y="80.96" width="7.63" height="2.94" fill="#1a1a71"/>
<rect x="594.28" y="83.3" width="7.63" height="5.29" fill="#18146c"/>
<rect x="594.28" y="87.99" width="7.63" height="2.94" fill="#1b1e74"/>
<rect x="594.28" y="90.34" width="7.63" height="2.94" fill="#2672aa"/>
<rect x="594.28" y="92.68" width="7.63" height="2.94" fill="#08c6da"/>
<rect x="594.28" y="95.03" width="7.63" height="2.94" fill="#01e4ec"/>
<rect x="594.28" y="97.37" width="7.63" height="5.29" fill="#00eef2"/>
<rect x="594.28" y="102.06" width="7.63" height="2.94" fill="#01e4ec"/>
<rect x="594.28" y="104.41" width="7.63" height="2.94" fill="#10b2ce"/>
<rect x="594.28" y="106.75" width="7.63" height="2.94" fill="#264f96"/>
<rect x="594.28" y="109.1" width="7.63" height="2.34" fill="#1a1a71"/>
<rect x="601.61" y="92.96" width="7.63" height="2.95" fill="#1a1a71"/>
<rect x="601.61" y="95.31" width="7.63" height="2.95" fill="#1b1e74"/>
<rect x="601.61" y="97.65" width="7.63" height="2.95" fill="#2088b6"/>
<rect x="601.61" y="100" width="7.63" height="2.95" fill="#01e4ec"/>
<rect x="601.61" y="102.35" width="7.63" height="5.29" fill="#00eef2"/>
<rect x="601.61" y="107.04" width="7.63" height="2.95" fill="#08c6da"/>
<rect x="601.61" y="109.39" width="7.63" height="2.95" fill="#2767a4"/>
<rect x="601.61" y="111.73" width="7.63" height="2.35" fill="#1a1a71"/>
<rect x="608.94" y="98.24" width="7.63" height="2.91" fill="#1a1a71"/>
<rect x="608.94" y="100.55" width="7.63" height="2.91" fill="#264f96"/>
<rect x="608.94" y="102.86" width="7.63" height="2.91" fill="#02dae6"/>
<rect x="608.94" y="105.17" width="7.63" height="5.22" fill="#00eef2"/>
<rect x="608.94" y="109.79" width="7.63" height="2.91" fill="#08c6da"/>
<rect x="608.94" y="112.1" width="7.63" height="2.91" fill="#2767a4"/>
<rect x="608.94" y="114.41" width="7.63" height="2.31" fill="#1a1a71"/>
<rect x="616.28" y="102.8" width="7.63" height="2.9" fill="#1a1a71"/>
<rect x="616.28" y="105.1" width="7.63" height="2.9" fill="#24428e"/>
<rect x="616.28" y="107.39" width="7.63" height="2.9" fill="#02dae6"/>
<rect x="616.28" y="109.69" width="7.63" height="5.19" fill="#00eef2"/>
<rect x="616.28" y="114.29" width="7.63" height="2.9" fill="#14a8c8"/>
<rect x="616.28" y="116.58" width="7.63" height="2.3" fill="#1a1a71"/>
<rect x="623.61" y="107.12" width="7.63" height="2.95" fill="#1a1a71"/>
<rect x="623.61" y="109.47" width="7.63" height="2.95" fill="#1c93bc"/>
<rect x="623.61" y="111.82" width="7.63" height="5.3" fill="#00eef2"/>
<rect x="623.61" y="116.53" width="7.63" height="2.35" fill="#1a1a71"/>
<rect x="630.94" y="109.76" width="7.63" height="2.88" fill="#1a1a71"/>
<rect x="630.94" y="112.04" width="7.63" height="2.88" fill="#08c6da"/>
<rect x="630.94" y="114.32" width="7.63" height="2.88" fill="#00eef2"/>
<rect x="630.94" y="116.6" width="7.63" height="2.28" fill="#1a1a71"/>
<rect x="638.27" y="112.4" width="7.63" height="3.4" fill="#1a1a71"/>
<rect x="638.27" y="115.2" width="7.63" height="3.4" fill="#00eef2"/>
<rect x="638.27" y="118" width="7.63" height="2.8" fill="#1a1a71"/>
<rect x="645.6" y="114.08" width="7.63" height="3.24" fill="#1a1a71"/>
<rect x="645.6" y="116.72" width="7.63" height="3.24" fill="#00eef2"/>
<rect x="645.6" y="119.36" width="7.63" height="2.64" fill="#1a1a71"/>
<rect x="652.94" y="114.08" width="7.63" height="3.24" fill="#1a1a71"/>
<rect x="652.94" y="116.72" width="7.63" height="3.24" fill="#00eef2"/>
<rect x="652.94" y="119.36" width="7.63" height="2.64" fill="#1a1a71"/>
<rect x="660.27" y="116.72" width="7.63" height="2.36" fill="#1a1a71"/>
<rect x="660.27" y="118.48" width="7.63" height="2.36" fill="#00eef2"/>
<rect x="660.27" y="120.24" width="7.63" height="1.76" fill="#1a1a71"/>
</g><clipPath id="rc"><rect x="484.3" y="3.2" width="183.3" height="121"/></clipPath><g clip-path="url(#rc)">
<path d="M484.3 122.72 L491.63 122.72 L491.63 122.72 L498.96 122.72 L498.96 122.72 L506.3 122.72 L506.3 122.72 L513.63 122.72 L513.63 122.72 L520.96 122.72 L520.96 122.72 L528.29 122.72 L528.29 122.72 L535.62 122.72 L535.62 122.72 L542.96 122.72 L542.96 120.8 L550.29 120.8 L550.29 114.32 L557.62 114.32 L557.62 106.4 L564.95 106.4 L564.95 101.12 L572.28 101.12 L572.28 98 L579.62 98 L579.62 95.6 L586.95 95.6 L586.95 96.8 L594.28 96.8 L594.28 99.68 L601.61 99.68 L601.61 103.52 L608.94 103.52 L608.94 106.4 L616.28 106.4 L616.28 111.2 L623.61 111.2 L623.61 114.08 L630.94 114.08 L630.94 115.52 L638.27 115.52 L638.27 117.2 L645.6 117.2 L645.6 118.16 L652.94 118.16 L652.94 118.88 L660.27 118.88 L660.27 119.36 L667.6 119.36" fill="none" stroke="#ee1111" stroke-width="1.3"/>
<path d="M561.29 75.2V123.2M557.62 99.2H564.95" stroke="#ffa010" stroke-width="1.5" fill="none"/>
<circle cx="561.29" cy="99.2" r="1.5" fill="#ffa010"/>
<path d="M568.62 41.26V109.14M564.95 75.2H572.28" stroke="#ffa010" stroke-width="1.5" fill="none"/>
<circle cx="568.62" cy="75.2" r="1.5" fill="#ffa010"/>
<path d="M575.95 41.26V109.14M572.28 75.2H579.62" stroke="#ffa010" stroke-width="1.5" fill="none"/>
<circle cx="575.95" cy="75.2" r="1.5" fill="#ffa010"/>
<path d="M583.28 41.26V109.14M579.62 75.2H586.95" stroke="#ffa010" stroke-width="1.5" fill="none"/>
<circle cx="583.28" cy="75.2" r="1.5" fill="#ffa010"/>
<path d="M590.61 41.26V109.14M586.95 75.2H594.28" stroke="#ffa010" stroke-width="1.5" fill="none"/>
<circle cx="590.61" cy="75.2" r="1.5" fill="#ffa010"/>
<path d="M597.95 75.2V123.2M594.28 99.2H601.61" stroke="#ffa010" stroke-width="1.5" fill="none"/>
<circle cx="597.95" cy="99.2" r="1.5" fill="#ffa010"/>
<path d="M605.28 75.2V123.2M601.61 99.2H608.94" stroke="#ffa010" stroke-width="1.5" fill="none"/>
<circle cx="605.28" cy="99.2" r="1.5" fill="#ffa010"/>
<path d="M612.61 41.26V109.14M608.94 75.2H616.28" stroke="#ffa010" stroke-width="1.5" fill="none"/>
<circle cx="612.61" cy="75.2" r="1.5" fill="#ffa010"/>
<path d="M663.93 75.2V123.2M660.27 99.2H667.6" stroke="#ffa010" stroke-width="1.5" fill="none"/>
<circle cx="663.93" cy="99.2" r="1.5" fill="#ffa010"/>
</g>
<path d="M484.3 123.2h5M484.3 120.8h2.5M484.3 118.4h2.5M484.3 116h2.5M484.3 113.6h2.5M484.3 111.2h5M484.3 108.8h2.5M484.3 106.4h2.5M484.3 104h2.5M484.3 101.6h2.5M484.3 99.2h5M484.3 96.8h2.5M484.3 94.4h2.5M484.3 92h2.5M484.3 89.6h2.5M484.3 87.2h5M484.3 84.8h2.5M484.3 82.4h2.5M484.3 80h2.5M484.3 77.6h2.5M484.3 75.2h5M484.3 72.8h2.5M484.3 70.4h2.5M484.3 68h2.5M484.3 65.6h2.5M484.3 63.2h5M484.3 60.8h2.5M484.3 58.4h2.5M484.3 56h2.5M484.3 53.6h2.5M484.3 51.2h5M484.3 48.8h2.5M484.3 46.4h2.5M484.3 44h2.5M484.3 41.6h2.5M484.3 39.2h5M484.3 36.8h2.5M484.3 34.4h2.5M484.3 32h2.5M484.3 29.6h2.5M484.3 27.2h5M484.3 24.8h2.5M484.3 22.4h2.5M484.3 20h2.5M484.3 17.6h2.5M484.3 15.2h5M484.3 12.8h2.5M484.3 10.4h2.5M484.3 8h2.5M484.3 5.6h2.5M484.3 3.2h5M484.3 123.2v-3.5M491.63 123.2v-1.75M498.96 123.2v-1.75M506.3 123.2v-1.75M513.63 123.2v-3.5M520.96 123.2v-1.75M528.29 123.2v-1.75M535.62 123.2v-1.75M542.96 123.2v-3.5M550.29 123.2v-1.75M557.62 123.2v-1.75M564.95 123.2v-1.75M572.28 123.2v-3.5M579.62 123.2v-1.75M586.95 123.2v-1.75M594.28 123.2v-1.75M601.61 123.2v-3.5M608.94 123.2v-1.75M616.28 123.2v-1.75M623.61 123.2v-1.75M630.94 123.2v-3.5M638.27 123.2v-1.75M645.6 123.2v-1.75M652.94 123.2v-1.75M660.27 123.2v-3.5M667.6 123.2v-1.75" stroke="#444" stroke-width="0.8" fill="none"/>
<g font-size="8.4"><text x="482.7" y="126.9" text-anchor="end">0</text><text x="482.7" y="114.9" text-anchor="end">0.5</text><text x="482.7" y="102.9" text-anchor="end">1</text><text x="482.7" y="90.9" text-anchor="end">1.5</text><text x="482.7" y="78.9" text-anchor="end">2</text><text x="482.7" y="66.9" text-anchor="end">2.5</text><text x="482.7" y="54.9" text-anchor="end">3</text><text x="482.7" y="42.9" text-anchor="end">3.5</text><text x="482.7" y="30.9" text-anchor="end">4</text><text x="482.7" y="18.9" text-anchor="end">4.5</text><text x="482.7" y="6.9" text-anchor="end">5</text><text x="484.3" y="132.7" text-anchor="middle">0</text><text x="513.63" y="132.7" text-anchor="middle">0.2</text><text x="542.96" y="132.7" text-anchor="middle">0.4</text><text x="572.28" y="132.7" text-anchor="middle">0.6</text><text x="601.61" y="132.7" text-anchor="middle">0.8</text><text x="630.94" y="132.7" text-anchor="middle">1</text><text x="660.27" y="132.7" text-anchor="middle">1.2</text></g>
<text x="667.5" y="142" text-anchor="end" font-size="8.9">Reconstructed Neutrino Energy [GeV]</text>
<text transform="translate(468.7 3.2) rotate(-90)" text-anchor="end" font-size="8.8">Events per Bin</text>
<rect x="668.2" y="3" width="7.2" height="6.54" fill="#01e9ef"/>
<rect x="668.2" y="9.04" width="7.2" height="6.54" fill="#01dfe9"/>
<rect x="668.2" y="15.08" width="7.2" height="6.54" fill="#04d5e3"/>
<rect x="668.2" y="21.12" width="7.2" height="6.54" fill="#07cbdd"/>
<rect x="668.2" y="27.16" width="7.2" height="6.54" fill="#0ac1d7"/>
<rect x="668.2" y="33.2" width="7.2" height="6.54" fill="#0eb7d1"/>
<rect x="668.2" y="39.24" width="7.2" height="6.54" fill="#12adcb"/>
<rect x="668.2" y="45.28" width="7.2" height="6.54" fill="#16a3c5"/>
<rect x="668.2" y="51.32" width="7.2" height="6.54" fill="#1a98bf"/>
<rect x="668.2" y="57.36" width="7.2" height="6.54" fill="#1e8eb9"/>
<rect x="668.2" y="63.4" width="7.2" height="6.54" fill="#2282b3"/>
<rect x="668.2" y="69.44" width="7.2" height="6.54" fill="#2478ad"/>
<rect x="668.2" y="75.48" width="7.2" height="6.54" fill="#266ca7"/>
<rect x="668.2" y="81.52" width="7.2" height="6.54" fill="#2862a1"/>
<rect x="668.2" y="87.56" width="7.2" height="6.54" fill="#27569a"/>
<rect x="668.2" y="93.6" width="7.2" height="6.54" fill="#254892"/>
<rect x="668.2" y="99.64" width="7.2" height="6.54" fill="#223b8a"/>
<rect x="668.2" y="105.68" width="7.2" height="6.54" fill="#202e80"/>
<rect x="668.2" y="111.72" width="7.2" height="6.54" fill="#1c2378"/>
<rect x="668.2" y="117.76" width="7.2" height="6.04" fill="#1a1970"/>
<path d="M670.4 123.8H675.4M670.4 108.7H675.4M670.4 93.6H675.4M670.4 78.5H675.4M670.4 63.4H675.4M670.4 48.3H675.4M670.4 33.2H675.4M670.4 18.1H675.4" stroke="#10104a" stroke-width="0.7" fill="none"/>
<g font-size="5"><text x="676.3" y="125.6">0</text><text x="676.3" y="110.5">50</text><text x="676.3" y="95.4">100</text><text x="676.3" y="80.3">150</text><text x="676.3" y="65.2">200</text><text x="676.3" y="50.1">250</text><text x="676.3" y="35">300</text><text x="676.3" y="19.9">350</text><text x="676.3" y="4.8">400</text></g>
<path d="M579.9 14.3H591.6" stroke="#ee1111" stroke-width="1.3"/>
<path d="M579.9 25.7H591.6" stroke="#ffa010" stroke-width="1.3"/>
<circle cx="585.75" cy="25.7" r="1.6" fill="#ffa010"/>
<g font-family="Liberation Serif, serif" font-size="9.7" stroke="#1a1a1a" stroke-width="0.25"><text x="594.5" y="16.8">Mean prediction</text><text x="594.5" y="27.8">Data</text></g>
<text x="529.9" y="162.8" font-family="Liberation Serif, serif" font-size="12.2" stroke="#1a1a1a" stroke-width="0.25">(c) <tspan font-style="italic">ν</tspan>-mode 1R<tspan font-style="italic">e</tspan>1d<tspan font-style="italic">e</tspan></text>
<clipPath id="cd"><rect x="135.9" y="187.2" width="183.8" height="120.9"/></clipPath>
<path d="M135.9 187.2H319.7V308.1" stroke="#b8b8b8" stroke-width="1.3" fill="none"/>
<path d="M135.9 187.2V308.1H319.7" stroke="#444" stroke-width="0.9" fill="none"/>
<g clip-path="url(#cd)">
<rect x="158.88" y="282.19" width="4.89" height="1.64" fill="#b4b4d8"/>
<rect x="158.88" y="283.23" width="4.89" height="3.72" fill="#18146c"/>
<rect x="158.88" y="286.36" width="4.89" height="1.64" fill="#1e287c"/>
<rect x="158.88" y="287.4" width="4.89" height="1.64" fill="#285c9e"/>
<rect x="158.88" y="288.44" width="4.89" height="1.64" fill="#1c93bc"/>
<rect x="158.88" y="289.48" width="4.89" height="1.64" fill="#0cbcd4"/>
<rect x="158.88" y="290.52" width="4.89" height="1.64" fill="#02dae6"/>
<rect x="158.88" y="291.56" width="4.89" height="5.8" fill="#00eef2"/>
<rect x="158.88" y="296.76" width="4.89" height="1.64" fill="#01e4ec"/>
<rect x="158.88" y="297.8" width="4.89" height="1.64" fill="#05d0e0"/>
<rect x="158.88" y="298.84" width="4.89" height="1.64" fill="#189ec2"/>
<rect x="158.88" y="299.88" width="4.89" height="1.64" fill="#2767a4"/>
<rect x="158.88" y="300.92" width="4.89" height="1.64" fill="#213585"/>
<rect x="158.88" y="301.96" width="4.89" height="1.04" fill="#1a1a71"/>
<rect x="163.47" y="251.1" width="4.89" height="1.65" fill="#b4b4d8"/>
<rect x="163.47" y="252.16" width="4.89" height="1.65" fill="#18146c"/>
<rect x="163.47" y="253.21" width="4.89" height="1.65" fill="#b4b4d8"/>
<rect x="163.47" y="254.27" width="4.89" height="1.65" fill="#18146c"/>
<rect x="163.47" y="255.32" width="4.89" height="1.65" fill="#1b1e74"/>
<rect x="163.47" y="256.38" width="4.89" height="1.65" fill="#213585"/>
<rect x="163.47" y="257.43" width="4.89" height="1.65" fill="#2767a4"/>
<rect x="163.47" y="258.48" width="4.89" height="1.65" fill="#1c93bc"/>
<rect x="163.47" y="259.54" width="4.89" height="1.65" fill="#0cbcd4"/>
<rect x="163.47" y="260.59" width="4.89" height="1.65" fill="#02dae6"/>
<rect x="163.47" y="261.65" width="4.89" height="1.65" fill="#01e4ec"/>
<rect x="163.47" y="262.7" width="4.89" height="5.87" fill="#00eef2"/>
<rect x="163.47" y="267.97" width="4.89" height="1.65" fill="#01e4ec"/>
<rect x="163.47" y="269.03" width="4.89" height="1.65" fill="#02dae6"/>
<rect x="163.47" y="270.08" width="4.89" height="1.65" fill="#0cbcd4"/>
<rect x="163.47" y="271.14" width="4.89" height="1.65" fill="#1c93bc"/>
<rect x="163.47" y="272.19" width="4.89" height="1.65" fill="#2767a4"/>
<rect x="163.47" y="273.24" width="4.89" height="1.65" fill="#24428e"/>
<rect x="163.47" y="274.3" width="4.89" height="1.65" fill="#1b1e74"/>
<rect x="163.47" y="275.35" width="4.89" height="1.05" fill="#1a1a71"/>
<rect x="168.06" y="241.09" width="4.89" height="1.64" fill="#b4b4d8"/>
<rect x="168.06" y="242.13" width="4.89" height="1.64" fill="#18146c"/>
<rect x="168.06" y="243.17" width="4.89" height="1.64" fill="#b4b4d8"/>
<rect x="168.06" y="244.21" width="4.89" height="1.64" fill="#18146c"/>
<rect x="168.06" y="245.25" width="4.89" height="1.64" fill="#1b1e74"/>
<rect x="168.06" y="246.29" width="4.89" height="1.64" fill="#1e287c"/>
<rect x="168.06" y="247.33" width="4.89" height="1.64" fill="#285c9e"/>
<rect x="168.06" y="248.37" width="4.89" height="1.64" fill="#2088b6"/>
<rect x="168.06" y="249.41" width="4.89" height="1.64" fill="#10b2ce"/>
<rect x="168.06" y="250.45" width="4.89" height="1.64" fill="#05d0e0"/>
<rect x="168.06" y="251.49" width="4.89" height="1.64" fill="#01e4ec"/>
<rect x="168.06" y="252.53" width="4.89" height="5.8" fill="#00eef2"/>
<rect x="168.06" y="257.73" width="4.89" height="1.64" fill="#01e4ec"/>
<rect x="168.06" y="258.76" width="4.89" height="1.64" fill="#02dae6"/>
<rect x="168.06" y="259.8" width="4.89" height="1.64" fill="#08c6da"/>
<rect x="168.06" y="260.84" width="4.89" height="1.64" fill="#189ec2"/>
<rect x="168.06" y="261.88" width="4.89" height="1.64" fill="#2672aa"/>
<rect x="168.06" y="262.92" width="4.89" height="1.64" fill="#24428e"/>
<rect x="168.06" y="263.96" width="4.89" height="1.64" fill="#1e287c"/>
<rect x="168.06" y="265" width="4.89" height="1.04" fill="#1a1a71"/>
<rect x="172.66" y="245.06" width="4.89" height="1.66" fill="#b4b4d8"/>
<rect x="172.66" y="246.12" width="4.89" height="1.66" fill="#18146c"/>
<rect x="172.66" y="247.17" width="4.89" height="1.66" fill="#b4b4d8"/>
<rect x="172.66" y="248.23" width="4.89" height="1.66" fill="#18146c"/>
<rect x="172.66" y="249.28" width="4.89" height="1.66" fill="#1b1e74"/>
<rect x="172.66" y="250.34" width="4.89" height="1.66" fill="#213585"/>
<rect x="172.66" y="251.4" width="4.89" height="1.66" fill="#2767a4"/>
<rect x="172.66" y="252.45" width="4.89" height="1.66" fill="#1c93bc"/>
<rect x="172.66" y="253.51" width="4.89" height="1.66" fill="#0cbcd4"/>
<rect x="172.66" y="254.57" width="4.89" height="1.66" fill="#02dae6"/>
<rect x="172.66" y="255.62" width="4.89" height="1.66" fill="#01e4ec"/>
<rect x="172.66" y="256.68" width="4.89" height="6.94" fill="#00eef2"/>
<rect x="172.66" y="263.01" width="4.89" height="1.66" fill="#01e4ec"/>
<rect x="172.66" y="264.07" width="4.89" height="1.66" fill="#05d0e0"/>
<rect x="172.66" y="265.13" width="4.89" height="1.66" fill="#0cbcd4"/>
<rect x="172.66" y="266.18" width="4.89" height="1.66" fill="#189ec2"/>
<rect x="172.66" y="267.24" width="4.89" height="1.66" fill="#2672aa"/>
<rect x="172.66" y="268.3" width="4.89" height="1.66" fill="#264f96"/>
<rect x="172.66" y="269.35" width="4.89" height="1.66" fill="#1e287c"/>
<rect x="172.66" y="270.41" width="4.89" height="1.66" fill="#1b1e74"/>
<rect x="172.66" y="271.46" width="4.89" height="1.06" fill="#1a1a71"/>
<rect x="177.25" y="256.03" width="4.89" height="1.64" fill="#b4b4d8"/>
<rect x="177.25" y="257.07" width="4.89" height="3.72" fill="#18146c"/>
<rect x="177.25" y="260.19" width="4.89" height="1.64" fill="#1e287c"/>
<rect x="177.25" y="261.22" width="4.89" height="1.64" fill="#264f96"/>
<rect x="177.25" y="262.26" width="4.89" height="1.64" fill="#2088b6"/>
<rect x="177.25" y="263.3" width="4.89" height="1.64" fill="#0cbcd4"/>
<rect x="177.25" y="264.34" width="4.89" height="1.64" fill="#02dae6"/>
<rect x="177.25" y="265.38" width="4.89" height="1.64" fill="#01e4ec"/>
<rect x="177.25" y="266.42" width="4.89" height="6.84" fill="#00eef2"/>
<rect x="177.25" y="272.66" width="4.89" height="1.64" fill="#01e4ec"/>
<rect x="177.25" y="273.7" width="4.89" height="1.64" fill="#02dae6"/>
<rect x="177.25" y="274.74" width="4.89" height="1.64" fill="#08c6da"/>
<rect x="177.25" y="275.78" width="4.89" height="1.64" fill="#14a8c8"/>
<rect x="177.25" y="276.82" width="4.89" height="1.64" fill="#2088b6"/>
<rect x="177.25" y="277.86" width="4.89" height="1.64" fill="#2767a4"/>
<rect x="177.25" y="278.9" width="4.89" height="1.64" fill="#24428e"/>
<rect x="177.25" y="279.94" width="4.89" height="1.64" fill="#1e287c"/>
<rect x="177.25" y="280.98" width="4.89" height="1.64" fill="#1b1e74"/>
<rect x="177.25" y="282.02" width="4.89" height="1.04" fill="#1a1a71"/>
<rect x="181.85" y="270.02" width="4.89" height="1.65" fill="#1a1a71"/>
<rect x="181.85" y="271.07" width="4.89" height="3.75" fill="#18146c"/>
<rect x="181.85" y="274.22" width="4.89" height="1.65" fill="#1e287c"/>
<rect x="181.85" y="275.27" width="4.89" height="1.65" fill="#264f96"/>
<rect x="181.85" y="276.32" width="4.89" height="1.65" fill="#2088b6"/>
<rect x="181.85" y="277.37" width="4.89" height="1.65" fill="#0cbcd4"/>
<rect x="181.85" y="278.42" width="4.89" height="1.65" fill="#02dae6"/>
<rect x="181.85" y="279.47" width="4.89" height="1.65" fill="#01e4ec"/>
<rect x="181.85" y="280.52" width="4.89" height="4.8" fill="#00eef2"/>
<rect x="181.85" y="284.72" width="4.89" height="1.65" fill="#01e4ec"/>
<rect x="181.85" y="285.77" width="4.89" height="1.65" fill="#0cbcd4"/>
<rect x="181.85" y="286.82" width="4.89" height="1.65" fill="#2088b6"/>
<rect x="181.85" y="287.87" width="4.89" height="1.65" fill="#24428e"/>
<rect x="181.85" y="288.92" width="4.89" height="1.05" fill="#1a1a71"/>
<rect x="186.44" y="278.05" width="4.9" height="1.66" fill="#1a1a71"/>
<rect x="186.44" y="279.11" width="4.9" height="2.72" fill="#18146c"/>
<rect x="186.44" y="281.22" width="4.9" height="1.66" fill="#1b1e74"/>
<rect x="186.44" y="282.28" width="4.9" height="1.66" fill="#264f96"/>
<rect x="186.44" y="283.34" width="4.9" height="1.66" fill="#2088b6"/>
<rect x="186.44" y="284.39" width="4.9" height="1.66" fill="#0cbcd4"/>
<rect x="186.44" y="285.45" width="4.9" height="1.66" fill="#01e4ec"/>
<rect x="186.44" y="286.51" width="4.9" height="4.83" fill="#00eef2"/>
<rect x="186.44" y="290.74" width="4.9" height="1.66" fill="#02dae6"/>
<rect x="186.44" y="291.8" width="4.9" height="1.66" fill="#10b2ce"/>
<rect x="186.44" y="292.86" width="4.9" height="1.66" fill="#2767a4"/>
<rect x="186.44" y="293.92" width="4.9" height="1.06" fill="#1a1a71"/>
<rect x="191.04" y="279" width="4.89" height="1.61" fill="#1a1a71"/>
<rect x="191.04" y="280.01" width="4.89" height="2.62" fill="#18146c"/>
<rect x="191.04" y="282.03" width="4.89" height="1.61" fill="#1e287c"/>
<rect x="191.04" y="283.03" width="4.89" height="1.61" fill="#285c9e"/>
<rect x="191.04" y="284.04" width="4.89" height="1.61" fill="#189ec2"/>
<rect x="191.04" y="285.05" width="4.89" height="1.61" fill="#08c6da"/>
<rect x="191.04" y="286.06" width="4.89" height="1.61" fill="#01e4ec"/>
<rect x="191.04" y="287.07" width="4.89" height="4.64" fill="#00eef2"/>
<rect x="191.04" y="291.11" width="4.89" height="1.61" fill="#02dae6"/>
<rect x="191.04" y="292.12" width="4.89" height="1.61" fill="#14a8c8"/>
<rect x="191.04" y="293.13" width="4.89" height="1.61" fill="#285c9e"/>
<rect x="191.04" y="294.14" width="4.89" height="1.01" fill="#1a1a71"/>
<rect x="195.63" y="273.04" width="4.9" height="1.65" fill="#1a1a71"/>
<rect x="195.63" y="274.09" width="4.9" height="3.75" fill="#18146c"/>
<rect x="195.63" y="277.24" width="4.9" height="1.65" fill="#1e287c"/>
<rect x="195.63" y="278.29" width="4.9" height="1.65" fill="#264f96"/>
<rect x="195.63" y="279.34" width="4.9" height="1.65" fill="#2088b6"/>
<rect x="195.63" y="280.39" width="4.9" height="1.65" fill="#0cbcd4"/>
<rect x="195.63" y="281.44" width="4.9" height="1.65" fill="#02dae6"/>
<rect x="195.63" y="282.49" width="4.9" height="5.85" fill="#00eef2"/>
<rect x="195.63" y="287.74" width="4.9" height="1.65" fill="#01e4ec"/>
<rect x="195.63" y="288.79" width="4.9" height="1.65" fill="#0cbcd4"/>
<rect x="195.63" y="289.84" width="4.9" height="1.65" fill="#2088b6"/>
<rect x="195.63" y="290.89" width="4.9" height="1.65" fill="#24428e"/>
<rect x="195.63" y="291.94" width="4.9" height="1.05" fill="#1a1a71"/>
<rect x="200.23" y="267.51" width="4.89" height="1.63" fill="#b4b4d8"/>
<rect x="200.23" y="268.54" width="4.89" height="3.69" fill="#18146c"/>
<rect x="200.23" y="271.63" width="4.89" height="1.63" fill="#1e287c"/>
<rect x="200.23" y="272.65" width="4.89" height="1.63" fill="#264f96"/>
<rect x="200.23" y="273.68" width="4.89" height="1.63" fill="#237db0"/>
<rect x="200.23" y="274.71" width="4.89" height="1.63" fill="#10b2ce"/>
<rect x="200.23" y="275.74" width="4.89" height="1.63" fill="#05d0e0"/>
<rect x="200.23" y="276.77" width="4.89" height="1.63" fill="#01e4ec"/>
<rect x="200.23" y="277.8" width="4.89" height="5.74" fill="#00eef2"/>
<rect x="200.23" y="282.94" width="4.89" height="1.63" fill="#01e4ec"/>
<rect x="200.23" y="283.97" width="4.89" height="1.63" fill="#05d0e0"/>
<rect x="200.23" y="285" width="4.89" height="1.63" fill="#10b2ce"/>
<rect x="200.23" y="286.02" width="4.89" height="1.63" fill="#237db0"/>
<rect x="200.23" y="287.05" width="4.89" height="1.63" fill="#264f96"/>
<rect x="200.23" y="288.08" width="4.89" height="1.63" fill="#1e287c"/>
<rect x="200.23" y="289.11" width="4.89" height="1.03" fill="#1a1a71"/>
<rect x="204.82" y="267.08" width="4.9" height="1.64" fill="#1a1a71"/>
<rect x="204.82" y="268.12" width="4.9" height="1.64" fill="#18146c"/>
<rect x="204.82" y="269.16" width="4.9" height="1.64" fill="#1b1e74"/>
<rect x="204.82" y="270.2" width="4.9" height="1.64" fill="#264f96"/>
<rect x="204.82" y="271.25" width="4.9" height="1.64" fill="#1c93bc"/>
<rect x="204.82" y="272.29" width="4.9" height="1.64" fill="#05d0e0"/>
<rect x="204.82" y="273.33" width="4.9" height="1.64" fill="#01e4ec"/>
<rect x="204.82" y="274.37" width="4.9" height="4.77" fill="#00eef2"/>
<rect x="204.82" y="278.54" width="4.9" height="1.64" fill="#01e4ec"/>
<rect x="204.82" y="279.58" width="4.9" height="1.64" fill="#08c6da"/>
<rect x="204.82" y="280.62" width="4.9" height="1.64" fill="#189ec2"/>
<rect x="204.82" y="281.66" width="4.9" height="1.64" fill="#2767a4"/>
<rect x="204.82" y="282.7" width="4.9" height="1.64" fill="#213585"/>
<rect x="204.82" y="283.74" width="4.9" height="1.04" fill="#1a1a71"/>
<rect x="209.42" y="264.06" width="4.89" height="1.65" fill="#1a1a71"/>
<rect x="209.42" y="265.1" width="4.89" height="2.69" fill="#18146c"/>
<rect x="209.42" y="267.19" width="4.89" height="1.65" fill="#1e287c"/>
<rect x="209.42" y="268.24" width="4.89" height="1.65" fill="#2767a4"/>
<rect x="209.42" y="269.28" width="4.89" height="1.65" fill="#14a8c8"/>
<rect x="209.42" y="270.33" width="4.89" height="1.65" fill="#05d0e0"/>
<rect x="209.42" y="271.38" width="4.89" height="1.65" fill="#01e4ec"/>
<rect x="209.42" y="272.42" width="4.89" height="4.78" fill="#00eef2"/>
<rect x="209.42" y="276.6" width="4.89" height="1.65" fill="#01e4ec"/>
<rect x="209.42" y="277.65" width="4.89" height="1.65" fill="#02dae6"/>
<rect x="209.42" y="278.69" width="4.89" height="1.65" fill="#0cbcd4"/>
<rect x="209.42" y="279.74" width="4.89" height="1.65" fill="#2088b6"/>
<rect x="209.42" y="280.78" width="4.89" height="1.65" fill="#285c9e"/>
<rect x="209.42" y="281.83" width="4.89" height="1.65" fill="#1e287c"/>
<rect x="209.42" y="282.87" width="4.89" height="1.05" fill="#1a1a71"/>
<rect x="214.01" y="266.65" width="4.9" height="1.67" fill="#1a1a71"/>
<rect x="214.01" y="267.72" width="4.9" height="1.67" fill="#18146c"/>
<rect x="214.01" y="268.78" width="4.9" height="1.67" fill="#1e287c"/>
<rect x="214.01" y="269.85" width="4.9" height="1.67" fill="#2767a4"/>
<rect x="214.01" y="270.92" width="4.9" height="1.67" fill="#10b2ce"/>
<rect x="214.01" y="271.98" width="4.9" height="1.67" fill="#02dae6"/>
<rect x="214.01" y="273.05" width="4.9" height="4.87" fill="#00eef2"/>
<rect x="214.01" y="277.32" width="4.9" height="1.67" fill="#01e4ec"/>
<rect x="214.01" y="278.38" width="4.9" height="1.67" fill="#02dae6"/>
<rect x="214.01" y="279.45" width="4.9" height="1.67" fill="#0cbcd4"/>
<rect x="214.01" y="280.52" width="4.9" height="1.67" fill="#1c93bc"/>
<rect x="214.01" y="281.58" width="4.9" height="1.67" fill="#285c9e"/>
<rect x="214.01" y="282.65" width="4.9" height="1.67" fill="#1e287c"/>
<rect x="214.01" y="283.72" width="4.9" height="1.07" fill="#1a1a71"/>
<rect x="218.61" y="268.55" width="4.89" height="1.61" fill="#1a1a71"/>
<rect x="218.61" y="269.56" width="4.89" height="1.61" fill="#18146c"/>
<rect x="218.61" y="270.57" width="4.89" height="1.61" fill="#213585"/>
<rect x="218.61" y="271.58" width="4.89" height="1.61" fill="#2088b6"/>
<rect x="218.61" y="272.59" width="4.89" height="1.61" fill="#08c6da"/>
<rect x="218.61" y="273.59" width="4.89" height="1.61" fill="#01e4ec"/>
<rect x="218.61" y="274.6" width="4.89" height="4.64" fill="#00eef2"/>
<rect x="218.61" y="278.64" width="4.89" height="1.61" fill="#02dae6"/>
<rect x="218.61" y="279.65" width="4.89" height="1.61" fill="#08c6da"/>
<rect x="218.61" y="280.66" width="4.89" height="1.61" fill="#189ec2"/>
<rect x="218.61" y="281.67" width="4.89" height="1.61" fill="#2767a4"/>
<rect x="218.61" y="282.68" width="4.89" height="1.61" fill="#213585"/>
<rect x="218.61" y="283.69" width="4.89" height="1.01" fill="#1a1a71"/>
<rect x="223.2" y="270.28" width="4.9" height="1.64" fill="#1a1a71"/>
<rect x="223.2" y="271.32" width="4.9" height="1.64" fill="#1b1e74"/>
<rect x="223.2" y="272.36" width="4.9" height="1.64" fill="#264f96"/>
<rect x="223.2" y="273.4" width="4.9" height="1.64" fill="#189ec2"/>
<rect x="223.2" y="274.45" width="4.9" height="1.64" fill="#02dae6"/>
<rect x="223.2" y="275.49" width="4.9" height="4.77" fill="#00eef2"/>
<rect x="223.2" y="279.66" width="4.9" height="1.64" fill="#05d0e0"/>
<rect x="223.2" y="280.7" width="4.9" height="1.64" fill="#189ec2"/>
<rect x="223.2" y="281.75" width="4.9" height="1.64" fill="#285c9e"/>
<rect x="223.2" y="282.79" width="4.9" height="1.04" fill="#1a1a71"/>
<rect x="227.8" y="273.3" width="4.89" height="1.68" fill="#1a1a71"/>
<rect x="227.8" y="274.38" width="4.89" height="1.68" fill="#285c9e"/>
<rect x="227.8" y="275.47" width="4.89" height="1.68" fill="#08c6da"/>
<rect x="227.8" y="276.55" width="4.89" height="3.85" fill="#00eef2"/>
<rect x="227.8" y="279.8" width="4.89" height="1.68" fill="#05d0e0"/>
<rect x="227.8" y="280.89" width="4.89" height="1.68" fill="#2088b6"/>
<rect x="227.8" y="281.97" width="4.89" height="1.08" fill="#1a1a71"/>
<rect x="232.39" y="273.82" width="4.9" height="1.69" fill="#1a1a71"/>
<rect x="232.39" y="274.91" width="4.9" height="1.69" fill="#285c9e"/>
<rect x="232.39" y="276" width="4.9" height="1.69" fill="#08c6da"/>
<rect x="232.39" y="277.09" width="4.9" height="2.78" fill="#00eef2"/>
<rect x="232.39" y="279.27" width="4.9" height="1.69" fill="#01e4ec"/>
<rect x="232.39" y="280.36" width="4.9" height="1.69" fill="#10b2ce"/>
<rect x="232.39" y="281.45" width="4.9" height="1.09" fill="#1a1a71"/>
<rect x="236.99" y="275.54" width="4.89" height="1.58" fill="#1a1a71"/>
<rect x="236.99" y="276.53" width="4.89" height="1.58" fill="#237db0"/>
<rect x="236.99" y="277.51" width="4.89" height="1.58" fill="#02dae6"/>
<rect x="236.99" y="278.49" width="4.89" height="2.56" fill="#00eef2"/>
<rect x="236.99" y="280.45" width="4.89" height="1.58" fill="#01e4ec"/>
<rect x="236.99" y="281.44" width="4.89" height="1.58" fill="#189ec2"/>
<rect x="236.99" y="282.42" width="4.89" height="0.98" fill="#1a1a71"/>
<rect x="241.58" y="276.84" width="4.9" height="1.6" fill="#1a1a71"/>
<rect x="241.58" y="277.84" width="4.9" height="1.6" fill="#237db0"/>
<rect x="241.58" y="278.84" width="4.9" height="1.6" fill="#02dae6"/>
<rect x="241.58" y="279.84" width="4.9" height="2.6" fill="#00eef2"/>
<rect x="241.58" y="281.84" width="4.9" height="1.6" fill="#05d0e0"/>
<rect x="241.58" y="282.83" width="4.9" height="1" fill="#1a1a71"/>
<rect x="246.18" y="278.13" width="4.89" height="1.69" fill="#1a1a71"/>
<rect x="246.18" y="279.23" width="4.89" height="1.69" fill="#08c6da"/>
<rect x="246.18" y="280.32" width="4.89" height="2.79" fill="#00eef2"/>
<rect x="246.18" y="282.51" width="4.89" height="1.69" fill="#08c6da"/>
<rect x="246.18" y="283.6" width="4.89" height="1.09" fill="#1a1a71"/>
<rect x="250.77" y="279.43" width="4.9" height="1.69" fill="#1a1a71"/>
<rect x="250.77" y="280.52" width="4.9" height="1.69" fill="#14a8c8"/>
<rect x="250.77" y="281.62" width="4.9" height="2.79" fill="#00eef2"/>
<rect x="250.77" y="283.8" width="4.9" height="1.69" fill="#02dae6"/>
<rect x="250.77" y="284.9" width="4.9" height="1.09" fill="#1a1a71"/>
<rect x="255.37" y="280.81" width="4.9" height="1.62" fill="#1a1a71"/>
<rect x="255.37" y="281.83" width="4.9" height="1.62" fill="#0cbcd4"/>
<rect x="255.37" y="282.85" width="4.9" height="2.64" fill="#00eef2"/>
<rect x="255.37" y="284.9" width="4.9" height="1.62" fill="#05d0e0"/>
<rect x="255.37" y="285.92" width="4.9" height="1.02" fill="#1a1a71"/>
<rect x="259.97" y="282.03" width="4.89" height="1.62" fill="#1a1a71"/>
<rect x="259.97" y="283.04" width="4.89" height="1.62" fill="#10b2ce"/>
<rect x="259.97" y="284.06" width="4.89" height="2.63" fill="#00eef2"/>
<rect x="259.97" y="286.09" width="4.89" height="1.62" fill="#02dae6"/>
<rect x="259.97" y="287.11" width="4.89" height="1.02" fill="#1a1a71"/>
<rect x="264.56" y="283.24" width="4.89" height="1.61" fill="#1a1a71"/>
<rect x="264.56" y="284.25" width="4.89" height="1.61" fill="#189ec2"/>
<rect x="264.56" y="285.26" width="4.89" height="1.61" fill="#01e4ec"/>
<rect x="264.56" y="286.28" width="4.89" height="1.61" fill="#00eef2"/>
<rect x="264.56" y="287.29" width="4.89" height="1.61" fill="#01e4ec"/>
<rect x="264.56" y="288.3" width="4.89" height="1.01" fill="#1a1a71"/>
<rect x="269.15" y="284.37" width="4.9" height="1.6" fill="#1a1a71"/>
<rect x="269.15" y="285.37" width="4.9" height="1.6" fill="#1c93bc"/>
<rect x="269.15" y="286.37" width="4.9" height="1.6" fill="#01e4ec"/>
<rect x="269.15" y="287.37" width="4.9" height="1.6" fill="#00eef2"/>
<rect x="269.15" y="288.37" width="4.9" height="1.6" fill="#01e4ec"/>
<rect x="269.15" y="289.37" width="4.9" height="1" fill="#1a1a71"/>
<rect x="273.75" y="285.31" width="4.9" height="1.57" fill="#1a1a71"/>
<rect x="273.75" y="286.28" width="4.9" height="1.57" fill="#1c93bc"/>
<rect x="273.75" y="287.25" width="4.9" height="1.57" fill="#01e4ec"/>
<rect x="273.75" y="288.22" width="4.9" height="1.57" fill="#00eef2"/>
<rect x="273.75" y="289.18" width="4.9" height="1.57" fill="#01e4ec"/>
<rect x="273.75" y="290.15" width="4.9" height="0.97" fill="#1a1a71"/>
<rect x="278.35" y="286.25" width="4.89" height="1.72" fill="#1a1a71"/>
<rect x="278.35" y="287.38" width="4.89" height="1.72" fill="#0cbcd4"/>
<rect x="278.35" y="288.5" width="4.89" height="2.85" fill="#00eef2"/>
<rect x="278.35" y="290.75" width="4.89" height="1.12" fill="#1a1a71"/>
<rect x="282.94" y="287.19" width="4.89" height="1.69" fill="#1a1a71"/>
<rect x="282.94" y="288.28" width="4.89" height="1.69" fill="#08c6da"/>
<rect x="282.94" y="289.37" width="4.89" height="2.77" fill="#00eef2"/>
<rect x="282.94" y="291.54" width="4.89" height="1.09" fill="#1a1a71"/>
<rect x="287.53" y="288.13" width="4.9" height="1.65" fill="#1a1a71"/>
<rect x="287.53" y="289.18" width="4.9" height="1.65" fill="#05d0e0"/>
<rect x="287.53" y="290.23" width="4.9" height="1.65" fill="#00eef2"/>
<rect x="287.53" y="291.28" width="4.9" height="1.65" fill="#01e4ec"/>
<rect x="287.53" y="292.33" width="4.9" height="1.05" fill="#1a1a71"/>
<rect x="292.13" y="289.07" width="4.9" height="1.61" fill="#1a1a71"/>
<rect x="292.13" y="290.08" width="4.9" height="1.61" fill="#05d0e0"/>
<rect x="292.13" y="291.1" width="4.9" height="1.61" fill="#00eef2"/>
<rect x="292.13" y="292.11" width="4.9" height="1.61" fill="#01e4ec"/>
<rect x="292.13" y="293.12" width="4.9" height="1.01" fill="#1a1a71"/>
<rect x="296.73" y="290.01" width="4.89" height="1.58" fill="#1a1a71"/>
<rect x="296.73" y="290.99" width="4.89" height="1.58" fill="#02dae6"/>
<rect x="296.73" y="291.96" width="4.89" height="1.58" fill="#00eef2"/>
<rect x="296.73" y="292.94" width="4.89" height="1.58" fill="#01e4ec"/>
<rect x="296.73" y="293.91" width="4.89" height="0.98" fill="#1a1a71"/>
<rect x="301.32" y="290.95" width="4.89" height="1.54" fill="#1a1a71"/>
<rect x="301.32" y="291.89" width="4.89" height="1.54" fill="#02dae6"/>
<rect x="301.32" y="292.83" width="4.89" height="1.54" fill="#00eef2"/>
<rect x="301.32" y="293.77" width="4.89" height="1.54" fill="#01e4ec"/>
<rect x="301.32" y="294.71" width="4.89" height="0.94" fill="#1a1a71"/>
<rect x="305.91" y="291.89" width="4.9" height="1.73" fill="#1a1a71"/>
<rect x="305.91" y="293.02" width="4.9" height="2.86" fill="#00eef2"/>
<rect x="305.91" y="295.27" width="4.9" height="1.13" fill="#1a1a71"/>
<rect x="310.51" y="292.83" width="4.9" height="1.68" fill="#1a1a71"/>
<rect x="310.51" y="293.91" width="4.9" height="2.76" fill="#00eef2"/>
<rect x="310.51" y="296.07" width="4.9" height="1.08" fill="#1a1a71"/>
<rect x="315.11" y="293.76" width="4.89" height="1.64" fill="#1a1a71"/>
<rect x="315.11" y="294.8" width="4.89" height="1.64" fill="#00eef2"/>
<rect x="315.11" y="295.84" width="4.89" height="1.64" fill="#01e4ec"/>
<rect x="315.11" y="296.87" width="4.89" height="1.04" fill="#1a1a71"/>
</g><clipPath id="rd"><rect x="135.9" y="187.2" width="183.8" height="121.9"/></clipPath><g clip-path="url(#rd)">
<path d="M135.9 308.1 L140.5 308.1 L140.5 308.1 L145.09 308.1 L145.09 308.1 L149.69 308.1 L149.69 308.1 L154.28 308.1 L154.28 308.1 L158.88 308.1 L158.88 294.37 L163.47 294.37 L163.47 264.92 L168.06 264.92 L168.06 255.16 L172.66 255.16 L172.66 258.88 L177.25 258.88 L177.25 268.38 L181.85 268.38 L181.85 282.54 L186.44 282.54 L186.44 288.93 L191.04 288.93 L191.04 289.1 L195.63 289.1 L195.63 285.47 L200.23 285.47 L200.23 280.12 L204.82 280.12 L204.82 275.89 L209.42 275.89 L209.42 274.16 L214.01 274.16 L214.01 275.11 L218.61 275.11 L218.61 275.89 L223.2 275.89 L223.2 277.27 L227.8 277.27 L227.8 278.13 L232.39 278.13 L232.39 278.57 L236.99 278.57 L236.99 279.43 L241.59 279.43 L241.59 280.81 L246.18 280.81 L246.18 281.24 L250.77 281.24 L250.77 283.06 L255.37 283.06 L255.37 283.83 L259.97 283.83 L259.97 285.3 L264.56 285.3 L264.56 286.78 L269.15 286.78 L269.15 288.03 L273.75 288.03 L273.75 288.79 L278.35 288.79 L278.35 289.54 L282.94 289.54 L282.94 290.3 L287.53 290.3 L287.53 291.05 L292.13 291.05 L292.13 291.81 L296.73 291.81 L296.73 292.56 L301.32 292.56 L301.32 293.31 L305.91 293.31 L305.91 294.07 L310.51 294.07 L310.51 294.82 L315.11 294.82 L315.11 295.58 L319.7 295.58" fill="none" stroke="#ee1111" stroke-width="1.3"/>
<path d="M161.17 290.83V308.1M158.88 299.46H163.47" stroke="#ffa010" stroke-width="1.5" fill="none"/>
<circle cx="161.17" cy="299.46" r="1.5" fill="#ffa010"/>
<path d="M165.77 245.61V284.23M163.47 264.92H168.06" stroke="#ffa010" stroke-width="1.5" fill="none"/>
<circle cx="165.77" cy="264.92" r="1.5" fill="#ffa010"/>
<path d="M170.36 194.43V249.05M168.06 221.74H172.66" stroke="#ffa010" stroke-width="1.5" fill="none"/>
<circle cx="170.36" cy="221.74" r="1.5" fill="#ffa010"/>
<path d="M174.96 235.13V277.44M172.66 256.29H177.25" stroke="#ffa010" stroke-width="1.5" fill="none"/>
<circle cx="174.96" cy="256.29" r="1.5" fill="#ffa010"/>
<path d="M179.55 245.61V284.23M177.25 264.92H181.85" stroke="#ffa010" stroke-width="1.5" fill="none"/>
<circle cx="179.55" cy="264.92" r="1.5" fill="#ffa010"/>
<path d="M184.15 290.83V308.1M181.85 299.46H186.44" stroke="#ffa010" stroke-width="1.5" fill="none"/>
<circle cx="184.15" cy="299.46" r="1.5" fill="#ffa010"/>
<path d="M188.74 256.29V290.83M186.44 273.56H191.04" stroke="#ffa010" stroke-width="1.5" fill="none"/>
<circle cx="188.74" cy="273.56" r="1.5" fill="#ffa010"/>
<path d="M193.34 290.83V308.1M191.04 299.46H195.63" stroke="#ffa010" stroke-width="1.5" fill="none"/>
<circle cx="193.34" cy="299.46" r="1.5" fill="#ffa010"/>
<path d="M197.93 245.61V284.23M195.63 264.92H200.23" stroke="#ffa010" stroke-width="1.5" fill="none"/>
<circle cx="197.93" cy="264.92" r="1.5" fill="#ffa010"/>
<path d="M202.53 290.83V308.1M200.23 299.46H204.82" stroke="#ffa010" stroke-width="1.5" fill="none"/>
<circle cx="202.53" cy="299.46" r="1.5" fill="#ffa010"/>
<path d="M207.12 256.29V290.83M204.82 273.56H209.42" stroke="#ffa010" stroke-width="1.5" fill="none"/>
<circle cx="207.12" cy="273.56" r="1.5" fill="#ffa010"/>
<path d="M211.72 235.13V277.44M209.42 256.29H214.01" stroke="#ffa010" stroke-width="1.5" fill="none"/>
<circle cx="211.72" cy="256.29" r="1.5" fill="#ffa010"/>
<path d="M216.31 278.62V303.04M214.01 290.83H218.61" stroke="#ffa010" stroke-width="1.5" fill="none"/>
<circle cx="216.31" cy="290.83" r="1.5" fill="#ffa010"/>
<path d="M220.91 235.13V277.44M218.61 256.29H223.2" stroke="#ffa010" stroke-width="1.5" fill="none"/>
<circle cx="220.91" cy="256.29" r="1.5" fill="#ffa010"/>
<path d="M225.5 278.62V303.04M223.2 290.83H227.8" stroke="#ffa010" stroke-width="1.5" fill="none"/>
<circle cx="225.5" cy="290.83" r="1.5" fill="#ffa010"/>
<path d="M230.1 245.61V284.23M227.8 264.92H232.39" stroke="#ffa010" stroke-width="1.5" fill="none"/>
<circle cx="230.1" cy="264.92" r="1.5" fill="#ffa010"/>
<path d="M234.69 278.62V303.04M232.39 290.83H236.99" stroke="#ffa010" stroke-width="1.5" fill="none"/>
<circle cx="234.69" cy="290.83" r="1.5" fill="#ffa010"/>
<path d="M239.29 267.24V297.15M236.99 282.19H241.58" stroke="#ffa010" stroke-width="1.5" fill="none"/>
<circle cx="239.29" cy="282.19" r="1.5" fill="#ffa010"/>
<path d="M243.88 278.62V303.04M241.59 290.83H246.18" stroke="#ffa010" stroke-width="1.5" fill="none"/>
<circle cx="243.88" cy="290.83" r="1.5" fill="#ffa010"/>
<path d="M248.48 278.62V303.04M246.18 290.83H250.77" stroke="#ffa010" stroke-width="1.5" fill="none"/>
<circle cx="248.48" cy="290.83" r="1.5" fill="#ffa010"/>
<path d="M253.07 245.61V284.23M250.77 264.92H255.37" stroke="#ffa010" stroke-width="1.5" fill="none"/>
<circle cx="253.07" cy="264.92" r="1.5" fill="#ffa010"/>
<path d="M257.67 278.62V303.04M255.37 290.83H259.96" stroke="#ffa010" stroke-width="1.5" fill="none"/>
<circle cx="257.67" cy="290.83" r="1.5" fill="#ffa010"/>
<path d="M262.26 256.29V290.83M259.97 273.56H264.56" stroke="#ffa010" stroke-width="1.5" fill="none"/>
<circle cx="262.26" cy="273.56" r="1.5" fill="#ffa010"/>
<path d="M266.86 256.29V290.83M264.56 273.56H269.15" stroke="#ffa010" stroke-width="1.5" fill="none"/>
<circle cx="266.86" cy="273.56" r="1.5" fill="#ffa010"/>
<path d="M271.45 256.29V290.83M269.15 273.56H273.75" stroke="#ffa010" stroke-width="1.5" fill="none"/>
<circle cx="271.45" cy="273.56" r="1.5" fill="#ffa010"/>
<path d="M276.05 278.62V303.04M273.75 290.83H278.34" stroke="#ffa010" stroke-width="1.5" fill="none"/>
<circle cx="276.05" cy="290.83" r="1.5" fill="#ffa010"/>
<path d="M280.64 290.83V308.1M278.35 299.46H282.94" stroke="#ffa010" stroke-width="1.5" fill="none"/>
<circle cx="280.64" cy="299.46" r="1.5" fill="#ffa010"/>
<path d="M285.24 278.62V303.04M282.94 290.83H287.53" stroke="#ffa010" stroke-width="1.5" fill="none"/>
<circle cx="285.24" cy="290.83" r="1.5" fill="#ffa010"/>
<path d="M294.43 256.29V290.83M292.13 273.56H296.73" stroke="#ffa010" stroke-width="1.5" fill="none"/>
<circle cx="294.43" cy="273.56" r="1.5" fill="#ffa010"/>
<path d="M299.02 278.62V303.04M296.73 290.83H301.32" stroke="#ffa010" stroke-width="1.5" fill="none"/>
<circle cx="299.02" cy="290.83" r="1.5" fill="#ffa010"/>
<path d="M308.21 290.83V308.1M305.91 299.46H310.51" stroke="#ffa010" stroke-width="1.5" fill="none"/>
<circle cx="308.21" cy="299.46" r="1.5" fill="#ffa010"/>
<path d="M312.81 267.24V297.15M310.51 282.19H315.11" stroke="#ffa010" stroke-width="1.5" fill="none"/>
<circle cx="312.81" cy="282.19" r="1.5" fill="#ffa010"/>
</g>
<path d="M135.9 308.1h5M135.9 303.78h2.5M135.9 299.46h2.5M135.9 295.15h2.5M135.9 290.83h5M135.9 286.51h2.5M135.9 282.19h2.5M135.9 277.88h2.5M135.9 273.56h5M135.9 269.24h2.5M135.9 264.92h2.5M135.9 260.6h2.5M135.9 256.29h5M135.9 251.97h2.5M135.9 247.65h2.5M135.9 243.33h2.5M135.9 239.01h5M135.9 234.7h2.5M135.9 230.38h2.5M135.9 226.06h2.5M135.9 221.74h5M135.9 217.43h2.5M135.9 213.11h2.5M135.9 208.79h2.5M135.9 204.47h5M135.9 200.15h2.5M135.9 195.84h2.5M135.9 191.52h2.5M135.9 187.2h5M135.9 308.1v-3.5M140.5 308.1v-1.75M145.09 308.1v-1.75M149.69 308.1v-1.75M154.28 308.1v-3.5M158.88 308.1v-1.75M163.47 308.1v-1.75M168.06 308.1v-1.75M172.66 308.1v-3.5M177.25 308.1v-1.75M181.85 308.1v-1.75M186.44 308.1v-1.75M191.04 308.1v-3.5M195.63 308.1v-1.75M200.23 308.1v-1.75M204.82 308.1v-1.75M209.42 308.1v-3.5M214.01 308.1v-1.75M218.61 308.1v-1.75M223.2 308.1v-1.75M227.8 308.1v-3.5M232.39 308.1v-1.75M236.99 308.1v-1.75M241.59 308.1v-1.75M246.18 308.1v-3.5M250.77 308.1v-1.75M255.37 308.1v-1.75M259.97 308.1v-1.75M264.56 308.1v-3.5M269.15 308.1v-1.75M273.75 308.1v-1.75M278.35 308.1v-1.75M282.94 308.1v-3.5M287.53 308.1v-1.75M292.13 308.1v-1.75M296.73 308.1v-1.75M301.32 308.1v-3.5M305.91 308.1v-1.75M310.51 308.1v-1.75M315.11 308.1v-1.75M319.7 308.1v-3.5" stroke="#444" stroke-width="0.8" fill="none"/>
<g font-size="8.4"><text x="134.3" y="311.8" text-anchor="end">0</text><text x="134.3" y="294.52" text-anchor="end">2</text><text x="134.3" y="277.25" text-anchor="end">4</text><text x="134.3" y="259.98" text-anchor="end">6</text><text x="134.3" y="242.71" text-anchor="end">8</text><text x="134.3" y="225.44" text-anchor="end">10</text><text x="134.3" y="208.17" text-anchor="end">12</text><text x="134.3" y="190.9" text-anchor="end">14</text><text x="135.9" y="316.6" text-anchor="middle">0</text><text x="154.28" y="316.6" text-anchor="middle">0.2</text><text x="172.66" y="316.6" text-anchor="middle">0.4</text><text x="191.04" y="316.6" text-anchor="middle">0.6</text><text x="209.42" y="316.6" text-anchor="middle">0.8</text><text x="227.8" y="316.6" text-anchor="middle">1</text><text x="246.18" y="316.6" text-anchor="middle">1.2</text><text x="264.56" y="316.6" text-anchor="middle">1.4</text><text x="282.94" y="316.6" text-anchor="middle">1.6</text><text x="301.32" y="316.6" text-anchor="middle">1.8</text><text x="319.7" y="316.6" text-anchor="middle">2</text></g>
<text x="319.6" y="326.2" text-anchor="end" font-size="8.9">Reconstructed Neutrino Energy [GeV]</text>
<text transform="translate(122.9 186.8) rotate(-90)" text-anchor="end" font-size="8.8">Events per Bin</text>
<rect x="320.1" y="187.2" width="6.5" height="6.55" fill="#01e9ef"/>
<rect x="320.1" y="193.25" width="6.5" height="6.55" fill="#01dfe9"/>
<rect x="320.1" y="199.29" width="6.5" height="6.55" fill="#04d5e3"/>
<rect x="320.1" y="205.33" width="6.5" height="6.55" fill="#07cbdd"/>
<rect x="320.1" y="211.38" width="6.5" height="6.55" fill="#0ac1d7"/>
<rect x="320.1" y="217.43" width="6.5" height="6.55" fill="#0eb7d1"/>
<rect x="320.1" y="223.47" width="6.5" height="6.55" fill="#12adcb"/>
<rect x="320.1" y="229.51" width="6.5" height="6.55" fill="#16a3c5"/>
<rect x="320.1" y="235.56" width="6.5" height="6.55" fill="#1a98bf"/>
<rect x="320.1" y="241.61" width="6.5" height="6.55" fill="#1e8eb9"/>
<rect x="320.1" y="247.65" width="6.5" height="6.55" fill="#2282b3"/>
<rect x="320.1" y="253.69" width="6.5" height="6.55" fill="#2478ad"/>
<rect x="320.1" y="259.74" width="6.5" height="6.55" fill="#266ca7"/>
<rect x="320.1" y="265.79" width="6.5" height="6.55" fill="#2862a1"/>
<rect x="320.1" y="271.83" width="6.5" height="6.55" fill="#27569a"/>
<rect x="320.1" y="277.88" width="6.5" height="6.55" fill="#254892"/>
<rect x="320.1" y="283.92" width="6.5" height="6.55" fill="#223b8a"/>
<rect x="320.1" y="289.97" width="6.5" height="6.55" fill="#202e80"/>
<rect x="320.1" y="296.01" width="6.5" height="6.55" fill="#1c2378"/>
<rect x="320.1" y="302.06" width="6.5" height="6.05" fill="#1a1970"/>
<path d="M321.6 308.1H326.6M321.6 296.01H326.6M321.6 283.92H326.6M321.6 271.83H326.6M321.6 259.74H326.6M321.6 247.65H326.6M321.6 235.56H326.6M321.6 223.47H326.6M321.6 211.38H326.6M321.6 199.29H326.6" stroke="#10104a" stroke-width="0.7" fill="none"/>
<g font-size="5"><text x="327.5" y="309.9">0</text><text x="327.5" y="297.81">10</text><text x="327.5" y="285.72">20</text><text x="327.5" y="273.63">30</text><text x="327.5" y="261.54">40</text><text x="327.5" y="249.45">50</text><text x="327.5" y="237.36">60</text><text x="327.5" y="225.27">70</text><text x="327.5" y="213.18">80</text><text x="327.5" y="201.09">90</text><text x="327.5" y="189">100</text></g>
<path d="M228 198.6H240.7" stroke="#ee1111" stroke-width="1.3"/>
<path d="M228 208.6H240.7" stroke="#ffa010" stroke-width="1.3"/>
<circle cx="234.35" cy="208.6" r="1.6" fill="#ffa010"/>
<g font-family="Liberation Serif, serif" font-size="9.7" stroke="#1a1a1a" stroke-width="0.25"><text x="244.1" y="200.7">Mean prediction</text><text x="244.1" y="211.1">Data</text></g>
<text x="188" y="347" font-family="Liberation Serif, serif" font-size="12.2" stroke="#1a1a1a" stroke-width="0.25">(d) <tspan font-style="italic">ν</tspan>-mode 1R<tspan font-style="italic" dx="0.8">μ</tspan></text><path d="M205.08 339H211.88" stroke="#1a1a1a" stroke-width="0.85"/>
<clipPath id="ce"><rect x="368.2" y="187.2" width="183.2" height="120.6"/></clipPath>
<path d="M368.2 187.2H551.4V307.8" stroke="#b8b8b8" stroke-width="1.3" fill="none"/>
<path d="M368.2 187.2V307.8H551.4" stroke="#444" stroke-width="0.9" fill="none"/>
<g clip-path="url(#ce)">
<rect x="368.2" y="305.39" width="7.63" height="1.4" fill="#1a1a71"/>
<rect x="368.2" y="306.19" width="7.63" height="1.4" fill="#00eef2"/>
<rect x="368.2" y="307" width="7.63" height="0.8" fill="#1a1a71"/>
<rect x="375.53" y="305.39" width="7.63" height="1.4" fill="#1a1a71"/>
<rect x="375.53" y="306.19" width="7.63" height="1.4" fill="#00eef2"/>
<rect x="375.53" y="307" width="7.63" height="0.8" fill="#1a1a71"/>
<rect x="382.86" y="301.05" width="7.63" height="2.85" fill="#1a1a71"/>
<rect x="382.86" y="303.3" width="7.63" height="2.85" fill="#00eef2"/>
<rect x="382.86" y="305.55" width="7.63" height="2.25" fill="#1a1a71"/>
<rect x="390.18" y="287.06" width="7.63" height="2.94" fill="#1a1a71"/>
<rect x="390.18" y="289.4" width="7.63" height="2.94" fill="#1b1e74"/>
<rect x="390.18" y="291.74" width="7.63" height="2.94" fill="#1c93bc"/>
<rect x="390.18" y="294.09" width="7.63" height="5.29" fill="#00eef2"/>
<rect x="390.18" y="298.77" width="7.63" height="2.94" fill="#05d0e0"/>
<rect x="390.18" y="301.12" width="7.63" height="2.34" fill="#1a1a71"/>
<rect x="397.51" y="282.23" width="7.63" height="3.01" fill="#1a1a71"/>
<rect x="397.51" y="284.64" width="7.63" height="3.01" fill="#18146c"/>
<rect x="397.51" y="287.06" width="7.63" height="3.01" fill="#213585"/>
<rect x="397.51" y="289.47" width="7.63" height="3.01" fill="#0cbcd4"/>
<rect x="397.51" y="291.88" width="7.63" height="5.42" fill="#00eef2"/>
<rect x="397.51" y="296.7" width="7.63" height="3.01" fill="#05d0e0"/>
<rect x="397.51" y="299.12" width="7.63" height="2.41" fill="#1a1a71"/>
<rect x="404.84" y="277.41" width="7.63" height="2.96" fill="#1a1a71"/>
<rect x="404.84" y="279.77" width="7.63" height="5.33" fill="#18146c"/>
<rect x="404.84" y="284.5" width="7.63" height="2.96" fill="#285c9e"/>
<rect x="404.84" y="286.86" width="7.63" height="2.96" fill="#05d0e0"/>
<rect x="404.84" y="289.23" width="7.63" height="5.33" fill="#00eef2"/>
<rect x="404.84" y="293.96" width="7.63" height="2.96" fill="#01e4ec"/>
<rect x="404.84" y="296.32" width="7.63" height="2.96" fill="#14a8c8"/>
<rect x="404.84" y="298.68" width="7.63" height="2.36" fill="#1a1a71"/>
<rect x="412.17" y="268.24" width="7.63" height="2.94" fill="#1a1a71"/>
<rect x="412.17" y="270.58" width="7.63" height="7.61" fill="#18146c"/>
<rect x="412.17" y="277.59" width="7.63" height="2.94" fill="#213585"/>
<rect x="412.17" y="279.93" width="7.63" height="2.94" fill="#1c93bc"/>
<rect x="412.17" y="282.27" width="7.63" height="2.94" fill="#02dae6"/>
<rect x="412.17" y="284.61" width="7.63" height="7.61" fill="#00eef2"/>
<rect x="412.17" y="291.62" width="7.63" height="2.94" fill="#05d0e0"/>
<rect x="412.17" y="293.96" width="7.63" height="2.94" fill="#2088b6"/>
<rect x="412.17" y="296.3" width="7.63" height="2.34" fill="#1a1a71"/>
<rect x="419.5" y="260.77" width="7.63" height="2.98" fill="#1a1a71"/>
<rect x="419.5" y="263.14" width="7.63" height="10.11" fill="#18146c"/>
<rect x="419.5" y="272.65" width="7.63" height="2.98" fill="#24428e"/>
<rect x="419.5" y="275.03" width="7.63" height="2.98" fill="#1c93bc"/>
<rect x="419.5" y="277.41" width="7.63" height="2.98" fill="#05d0e0"/>
<rect x="419.5" y="279.79" width="7.63" height="7.73" fill="#00eef2"/>
<rect x="419.5" y="286.92" width="7.63" height="2.98" fill="#02dae6"/>
<rect x="419.5" y="289.3" width="7.63" height="2.98" fill="#1c93bc"/>
<rect x="419.5" y="291.67" width="7.63" height="2.38" fill="#1a1a71"/>
<rect x="426.82" y="254.74" width="7.63" height="3.03" fill="#1a1a71"/>
<rect x="426.82" y="257.16" width="7.63" height="10.31" fill="#18146c"/>
<rect x="426.82" y="266.88" width="7.63" height="3.03" fill="#213585"/>
<rect x="426.82" y="269.3" width="7.63" height="3.03" fill="#2088b6"/>
<rect x="426.82" y="271.73" width="7.63" height="3.03" fill="#05d0e0"/>
<rect x="426.82" y="274.16" width="7.63" height="7.88" fill="#00eef2"/>
<rect x="426.82" y="281.44" width="7.63" height="3.03" fill="#01e4ec"/>
<rect x="426.82" y="283.87" width="7.63" height="3.03" fill="#08c6da"/>
<rect x="426.82" y="286.3" width="7.63" height="3.03" fill="#2672aa"/>
<rect x="426.82" y="288.73" width="7.63" height="2.43" fill="#1a1a71"/>
<rect x="426.82" y="248.95" width="7.33" height="2.41" fill="#19186f"/>
<rect x="426.82" y="251.6" width="7.33" height="2.41" fill="#19186f"/>
<rect x="434.15" y="247.74" width="7.63" height="2.96" fill="#1a1a71"/>
<rect x="434.15" y="250.1" width="7.63" height="10.02" fill="#18146c"/>
<rect x="434.15" y="259.52" width="7.63" height="2.96" fill="#1b1e74"/>
<rect x="434.15" y="261.87" width="7.63" height="2.96" fill="#264f96"/>
<rect x="434.15" y="264.23" width="7.63" height="2.96" fill="#189ec2"/>
<rect x="434.15" y="266.58" width="7.63" height="2.96" fill="#05d0e0"/>
<rect x="434.15" y="268.94" width="7.63" height="10.02" fill="#00eef2"/>
<rect x="434.15" y="278.36" width="7.63" height="2.96" fill="#02dae6"/>
<rect x="434.15" y="280.71" width="7.63" height="2.96" fill="#14a8c8"/>
<rect x="434.15" y="283.07" width="7.63" height="2.96" fill="#285c9e"/>
<rect x="434.15" y="285.43" width="7.63" height="2.36" fill="#1a1a71"/>
<rect x="434.15" y="234.48" width="7.33" height="2.41" fill="#19186f"/>
<rect x="434.15" y="243.88" width="7.33" height="2.41" fill="#19186f"/>
<rect x="441.48" y="235.68" width="7.63" height="2.99" fill="#1a1a71"/>
<rect x="441.48" y="238.07" width="7.63" height="12.55" fill="#18146c"/>
<rect x="441.48" y="250.02" width="7.63" height="2.99" fill="#1b1e74"/>
<rect x="441.48" y="252.4" width="7.63" height="2.99" fill="#213585"/>
<rect x="441.48" y="254.79" width="7.63" height="2.99" fill="#2672aa"/>
<rect x="441.48" y="257.18" width="7.63" height="2.99" fill="#10b2ce"/>
<rect x="441.48" y="259.57" width="7.63" height="2.99" fill="#02dae6"/>
<rect x="441.48" y="261.96" width="7.63" height="12.55" fill="#00eef2"/>
<rect x="441.48" y="273.91" width="7.63" height="2.99" fill="#02dae6"/>
<rect x="441.48" y="276.29" width="7.63" height="2.99" fill="#0cbcd4"/>
<rect x="441.48" y="278.68" width="7.63" height="2.99" fill="#237db0"/>
<rect x="441.48" y="281.07" width="7.63" height="2.99" fill="#24428e"/>
<rect x="441.48" y="283.46" width="7.63" height="2.39" fill="#1a1a71"/>
<rect x="441.48" y="222.66" width="7.33" height="2.41" fill="#19186f"/>
<rect x="448.81" y="233.27" width="7.63" height="3.01" fill="#1a1a71"/>
<rect x="448.81" y="235.68" width="7.63" height="12.66" fill="#18146c"/>
<rect x="448.81" y="247.74" width="7.63" height="3.01" fill="#1b1e74"/>
<rect x="448.81" y="250.15" width="7.63" height="3.01" fill="#24428e"/>
<rect x="448.81" y="252.57" width="7.63" height="3.01" fill="#237db0"/>
<rect x="448.81" y="254.98" width="7.63" height="3.01" fill="#0cbcd4"/>
<rect x="448.81" y="257.39" width="7.63" height="3.01" fill="#02dae6"/>
<rect x="448.81" y="259.8" width="7.63" height="10.25" fill="#00eef2"/>
<rect x="448.81" y="269.45" width="7.63" height="3.01" fill="#01e4ec"/>
<rect x="448.81" y="271.86" width="7.63" height="3.01" fill="#02dae6"/>
<rect x="448.81" y="274.27" width="7.63" height="3.01" fill="#10b2ce"/>
<rect x="448.81" y="276.69" width="7.63" height="3.01" fill="#237db0"/>
<rect x="448.81" y="279.1" width="7.63" height="3.01" fill="#24428e"/>
<rect x="448.81" y="281.51" width="7.63" height="2.41" fill="#1a1a71"/>
<rect x="448.81" y="229.89" width="7.33" height="2.41" fill="#19186f"/>
<rect x="448.81" y="215.42" width="7.33" height="2.41" fill="#19186f"/>
<rect x="456.14" y="232.3" width="7.63" height="3.01" fill="#1a1a71"/>
<rect x="456.14" y="234.72" width="7.63" height="15.07" fill="#18146c"/>
<rect x="456.14" y="249.19" width="7.63" height="3.01" fill="#1e287c"/>
<rect x="456.14" y="251.6" width="7.63" height="3.01" fill="#285c9e"/>
<rect x="456.14" y="254.01" width="7.63" height="3.01" fill="#189ec2"/>
<rect x="456.14" y="256.42" width="7.63" height="3.01" fill="#08c6da"/>
<rect x="456.14" y="258.84" width="7.63" height="3.01" fill="#01e4ec"/>
<rect x="456.14" y="261.25" width="7.63" height="10.25" fill="#00eef2"/>
<rect x="456.14" y="270.9" width="7.63" height="3.01" fill="#01e4ec"/>
<rect x="456.14" y="273.31" width="7.63" height="3.01" fill="#05d0e0"/>
<rect x="456.14" y="275.72" width="7.63" height="3.01" fill="#10b2ce"/>
<rect x="456.14" y="278.13" width="7.63" height="3.01" fill="#2672aa"/>
<rect x="456.14" y="280.54" width="7.63" height="3.01" fill="#24428e"/>
<rect x="456.14" y="282.96" width="7.63" height="2.41" fill="#1a1a71"/>
<rect x="456.14" y="220" width="7.33" height="2.41" fill="#19186f"/>
<rect x="463.46" y="236.16" width="7.63" height="3" fill="#1a1a71"/>
<rect x="463.46" y="238.56" width="7.63" height="12.6" fill="#18146c"/>
<rect x="463.46" y="250.57" width="7.63" height="3" fill="#1b1e74"/>
<rect x="463.46" y="252.97" width="7.63" height="3" fill="#213585"/>
<rect x="463.46" y="255.37" width="7.63" height="3" fill="#2672aa"/>
<rect x="463.46" y="257.77" width="7.63" height="3" fill="#10b2ce"/>
<rect x="463.46" y="260.17" width="7.63" height="3" fill="#02dae6"/>
<rect x="463.46" y="262.57" width="7.63" height="12.6" fill="#00eef2"/>
<rect x="463.46" y="274.57" width="7.63" height="3" fill="#02dae6"/>
<rect x="463.46" y="276.97" width="7.63" height="3" fill="#0cbcd4"/>
<rect x="463.46" y="279.37" width="7.63" height="3" fill="#237db0"/>
<rect x="463.46" y="281.77" width="7.63" height="3" fill="#24428e"/>
<rect x="463.46" y="284.17" width="7.63" height="2.4" fill="#1a1a71"/>
<rect x="463.46" y="224.83" width="7.33" height="2.41" fill="#19186f"/>
<rect x="470.79" y="237.61" width="7.63" height="3.05" fill="#1a1a71"/>
<rect x="470.79" y="240.06" width="7.63" height="15.29" fill="#18146c"/>
<rect x="470.79" y="254.75" width="7.63" height="3.05" fill="#1e287c"/>
<rect x="470.79" y="257.2" width="7.63" height="3.05" fill="#264f96"/>
<rect x="470.79" y="259.64" width="7.63" height="3.05" fill="#2088b6"/>
<rect x="470.79" y="262.09" width="7.63" height="3.05" fill="#0cbcd4"/>
<rect x="470.79" y="264.54" width="7.63" height="3.05" fill="#02dae6"/>
<rect x="470.79" y="266.99" width="7.63" height="10.39" fill="#00eef2"/>
<rect x="470.79" y="276.78" width="7.63" height="3.05" fill="#01e4ec"/>
<rect x="470.79" y="279.23" width="7.63" height="3.05" fill="#10b2ce"/>
<rect x="470.79" y="281.68" width="7.63" height="3.05" fill="#2767a4"/>
<rect x="470.79" y="284.13" width="7.63" height="2.45" fill="#1a1a71"/>
<rect x="478.12" y="260.77" width="7.63" height="2.94" fill="#1a1a71"/>
<rect x="478.12" y="263.1" width="7.63" height="7.61" fill="#18146c"/>
<rect x="478.12" y="270.12" width="7.63" height="2.94" fill="#213585"/>
<rect x="478.12" y="272.45" width="7.63" height="2.94" fill="#189ec2"/>
<rect x="478.12" y="274.79" width="7.63" height="2.94" fill="#02dae6"/>
<rect x="478.12" y="277.13" width="7.63" height="7.61" fill="#00eef2"/>
<rect x="478.12" y="284.14" width="7.63" height="2.94" fill="#05d0e0"/>
<rect x="478.12" y="286.48" width="7.63" height="2.94" fill="#237db0"/>
<rect x="478.12" y="288.82" width="7.63" height="2.34" fill="#1a1a71"/>
<rect x="478.12" y="250.88" width="7.33" height="2.41" fill="#19186f"/>
<rect x="485.45" y="270.17" width="7.63" height="3.04" fill="#1a1a71"/>
<rect x="485.45" y="272.61" width="7.63" height="5.47" fill="#18146c"/>
<rect x="485.45" y="277.48" width="7.63" height="3.04" fill="#24428e"/>
<rect x="485.45" y="279.92" width="7.63" height="3.04" fill="#10b2ce"/>
<rect x="485.45" y="282.35" width="7.63" height="7.91" fill="#00eef2"/>
<rect x="485.45" y="289.66" width="7.63" height="3.04" fill="#10b2ce"/>
<rect x="485.45" y="292.1" width="7.63" height="2.44" fill="#1a1a71"/>
<rect x="485.45" y="262.45" width="7.33" height="2.41" fill="#19186f"/>
<rect x="492.78" y="278.86" width="7.63" height="3.05" fill="#1a1a71"/>
<rect x="492.78" y="281.3" width="7.63" height="3.05" fill="#18146c"/>
<rect x="492.78" y="283.75" width="7.63" height="3.05" fill="#2672aa"/>
<rect x="492.78" y="286.2" width="7.63" height="3.05" fill="#01e4ec"/>
<rect x="492.78" y="288.64" width="7.63" height="3.05" fill="#00eef2"/>
<rect x="492.78" y="291.09" width="7.63" height="3.05" fill="#01e4ec"/>
<rect x="492.78" y="293.53" width="7.63" height="2.45" fill="#1a1a71"/>
<rect x="492.78" y="274.76" width="7.33" height="2.41" fill="#19186f"/>
<rect x="500.1" y="284.89" width="7.63" height="2.85" fill="#1a1a71"/>
<rect x="500.1" y="287.14" width="7.63" height="2.85" fill="#1b1e74"/>
<rect x="500.1" y="289.39" width="7.63" height="2.85" fill="#189ec2"/>
<rect x="500.1" y="291.64" width="7.63" height="5.1" fill="#00eef2"/>
<rect x="500.1" y="296.14" width="7.63" height="2.25" fill="#1a1a71"/>
<rect x="507.43" y="289.23" width="7.63" height="2.82" fill="#1a1a71"/>
<rect x="507.43" y="291.45" width="7.63" height="2.82" fill="#237db0"/>
<rect x="507.43" y="293.67" width="7.63" height="5.04" fill="#00eef2"/>
<rect x="507.43" y="298.1" width="7.63" height="2.22" fill="#1a1a71"/>
<rect x="514.76" y="291.64" width="7.63" height="2.96" fill="#1a1a71"/>
<rect x="514.76" y="294" width="7.63" height="2.96" fill="#14a8c8"/>
<rect x="514.76" y="296.37" width="7.63" height="2.96" fill="#00eef2"/>
<rect x="514.76" y="298.73" width="7.63" height="2.96" fill="#01e4ec"/>
<rect x="514.76" y="301.09" width="7.63" height="2.36" fill="#1a1a71"/>
<rect x="522.09" y="294.29" width="7.63" height="2.89" fill="#1a1a71"/>
<rect x="522.09" y="296.58" width="7.63" height="2.89" fill="#01e4ec"/>
<rect x="522.09" y="298.88" width="7.63" height="2.89" fill="#00eef2"/>
<rect x="522.09" y="301.17" width="7.63" height="2.29" fill="#1a1a71"/>
<rect x="529.42" y="295.98" width="7.63" height="3.09" fill="#1a1a71"/>
<rect x="529.42" y="298.47" width="7.63" height="3.09" fill="#00eef2"/>
<rect x="529.42" y="300.97" width="7.63" height="2.49" fill="#1a1a71"/>
<rect x="536.74" y="295.98" width="7.63" height="3.09" fill="#1a1a71"/>
<rect x="536.74" y="298.47" width="7.63" height="3.09" fill="#01e4ec"/>
<rect x="536.74" y="300.97" width="7.63" height="2.49" fill="#1a1a71"/>
<rect x="544.07" y="299.12" width="7.63" height="2.93" fill="#1a1a71"/>
<rect x="544.07" y="301.45" width="7.63" height="2.93" fill="#00eef2"/>
<rect x="544.07" y="303.78" width="7.63" height="2.33" fill="#1a1a71"/>
</g><clipPath id="re"><rect x="368.2" y="187.2" width="183.2" height="121.6"/></clipPath><g clip-path="url(#re)">
<path d="M368.2 307.32 L375.53 307.32 L375.53 307.32 L382.86 307.32 L382.86 305.15 L390.18 305.15 L390.18 296.95 L397.51 296.95 L397.51 294.78 L404.84 294.78 L404.84 292.12 L412.17 292.12 L412.17 288.02 L419.5 288.02 L419.5 284.16 L426.82 284.16 L426.82 279.1 L434.15 279.1 L434.15 274.03 L441.48 274.03 L441.48 268 L448.81 268 L448.81 265.11 L456.14 265.11 L456.14 266.31 L463.46 266.31 L463.46 268.73 L470.79 268.73 L470.79 273.07 L478.12 273.07 L478.12 280.3 L485.45 280.3 L485.45 286.09 L492.78 286.09 L492.78 289.95 L500.1 289.95 L500.1 294.29 L507.43 294.29 L507.43 295.98 L514.76 295.98 L514.76 297.91 L522.09 297.91 L522.09 299.12 L529.42 299.12 L529.42 299.84 L536.74 299.84 L536.74 301.05 L544.07 301.05 L544.07 302.25 L551.4 302.25" fill="none" stroke="#ee1111" stroke-width="1.3"/>
<path d="M423.16 225.45V293.67M419.5 259.56H426.82" stroke="#ffa010" stroke-width="1.5" fill="none"/>
<circle cx="423.16" cy="259.56" r="1.5" fill="#ffa010"/>
<path d="M430.49 225.45V293.67M426.82 259.56H434.15" stroke="#ffa010" stroke-width="1.5" fill="none"/>
<circle cx="430.49" cy="259.56" r="1.5" fill="#ffa010"/>
<path d="M437.82 259.56V307.8M434.15 283.68H441.48" stroke="#ffa010" stroke-width="1.5" fill="none"/>
<circle cx="437.82" cy="283.68" r="1.5" fill="#ffa010"/>
<path d="M445.14 193.66V277.22M441.48 235.44H448.81" stroke="#ffa010" stroke-width="1.5" fill="none"/>
<circle cx="445.14" cy="235.44" r="1.5" fill="#ffa010"/>
<path d="M452.47 225.45V293.67M448.81 259.56H456.14" stroke="#ffa010" stroke-width="1.5" fill="none"/>
<circle cx="452.47" cy="259.56" r="1.5" fill="#ffa010"/>
<path d="M459.8 259.56V307.8M456.14 283.68H463.46" stroke="#ffa010" stroke-width="1.5" fill="none"/>
<circle cx="459.8" cy="283.68" r="1.5" fill="#ffa010"/>
<path d="M474.46 225.45V293.67M470.79 259.56H478.12" stroke="#ffa010" stroke-width="1.5" fill="none"/>
<circle cx="474.46" cy="259.56" r="1.5" fill="#ffa010"/>
<path d="M481.78 259.56V307.8M478.12 283.68H485.45" stroke="#ffa010" stroke-width="1.5" fill="none"/>
<circle cx="481.78" cy="283.68" r="1.5" fill="#ffa010"/>
<path d="M503.77 225.45V293.67M500.1 259.56H507.43" stroke="#ffa010" stroke-width="1.5" fill="none"/>
<circle cx="503.77" cy="259.56" r="1.5" fill="#ffa010"/>
</g>
<path d="M368.2 307.8h5M368.2 302.98h2.5M368.2 298.15h2.5M368.2 293.33h2.5M368.2 288.5h2.5M368.2 283.68h5M368.2 278.86h2.5M368.2 274.03h2.5M368.2 269.21h2.5M368.2 264.38h2.5M368.2 259.56h5M368.2 254.74h2.5M368.2 249.91h2.5M368.2 245.09h2.5M368.2 240.26h2.5M368.2 235.44h5M368.2 230.62h2.5M368.2 225.79h2.5M368.2 220.97h2.5M368.2 216.14h2.5M368.2 211.32h5M368.2 206.5h2.5M368.2 201.67h2.5M368.2 196.85h2.5M368.2 192.02h2.5M368.2 187.2h5M368.2 307.8v-3.5M375.53 307.8v-1.75M382.86 307.8v-1.75M390.18 307.8v-1.75M397.51 307.8v-3.5M404.84 307.8v-1.75M412.17 307.8v-1.75M419.5 307.8v-1.75M426.82 307.8v-3.5M434.15 307.8v-1.75M441.48 307.8v-1.75M448.81 307.8v-1.75M456.14 307.8v-3.5M463.46 307.8v-1.75M470.79 307.8v-1.75M478.12 307.8v-1.75M485.45 307.8v-3.5M492.78 307.8v-1.75M500.1 307.8v-1.75M507.43 307.8v-1.75M514.76 307.8v-3.5M522.09 307.8v-1.75M529.42 307.8v-1.75M536.74 307.8v-1.75M544.07 307.8v-3.5M551.4 307.8v-1.75" stroke="#444" stroke-width="0.8" fill="none"/>
<g font-size="8.4"><text x="366.6" y="311.5" text-anchor="end">0</text><text x="366.6" y="287.38" text-anchor="end">1</text><text x="366.6" y="263.26" text-anchor="end">2</text><text x="366.6" y="239.14" text-anchor="end">3</text><text x="366.6" y="215.02" text-anchor="end">4</text><text x="366.6" y="190.9" text-anchor="end">5</text><text x="368.2" y="316.3" text-anchor="middle">0</text><text x="397.51" y="316.3" text-anchor="middle">0.2</text><text x="426.82" y="316.3" text-anchor="middle">0.4</text><text x="456.14" y="316.3" text-anchor="middle">0.6</text><text x="485.45" y="316.3" text-anchor="middle">0.8</text><text x="514.76" y="316.3" text-anchor="middle">1</text><text x="544.07" y="316.3" text-anchor="middle">1.2</text></g>
<text x="551.3" y="326.2" text-anchor="end" font-size="8.9">Reconstructed Neutrino Energy [GeV]</text>
<text transform="translate(354.9 186.8) rotate(-90)" text-anchor="end" font-size="8.8">Events per Bin</text>
<rect x="552.2" y="186.7" width="7.3" height="6.77" fill="#01e9ef"/>
<rect x="552.2" y="192.96" width="7.3" height="6.77" fill="#01dfe9"/>
<rect x="552.2" y="199.23" width="7.3" height="6.77" fill="#04d5e3"/>
<rect x="552.2" y="205.5" width="7.3" height="6.77" fill="#07cbdd"/>
<rect x="552.2" y="211.76" width="7.3" height="6.77" fill="#0ac1d7"/>
<rect x="552.2" y="218.02" width="7.3" height="6.77" fill="#0eb7d1"/>
<rect x="552.2" y="224.29" width="7.3" height="6.77" fill="#12adcb"/>
<rect x="552.2" y="230.56" width="7.3" height="6.77" fill="#16a3c5"/>
<rect x="552.2" y="236.82" width="7.3" height="6.77" fill="#1a98bf"/>
<rect x="552.2" y="243.08" width="7.3" height="6.77" fill="#1e8eb9"/>
<rect x="552.2" y="249.35" width="7.3" height="6.77" fill="#2282b3"/>
<rect x="552.2" y="255.62" width="7.3" height="6.77" fill="#2478ad"/>
<rect x="552.2" y="261.88" width="7.3" height="6.77" fill="#266ca7"/>
<rect x="552.2" y="268.14" width="7.3" height="6.77" fill="#2862a1"/>
<rect x="552.2" y="274.41" width="7.3" height="6.77" fill="#27569a"/>
<rect x="552.2" y="280.68" width="7.3" height="6.77" fill="#254892"/>
<rect x="552.2" y="286.94" width="7.3" height="6.77" fill="#223b8a"/>
<rect x="552.2" y="293.2" width="7.3" height="6.77" fill="#202e80"/>
<rect x="552.2" y="299.47" width="7.3" height="6.77" fill="#1c2378"/>
<rect x="552.2" y="305.74" width="7.3" height="6.27" fill="#1a1970"/>
<path d="M554.5 312H559.5M554.5 296.34H559.5M554.5 280.68H559.5M554.5 265.01H559.5M554.5 249.35H559.5M554.5 233.69H559.5M554.5 218.02H559.5M554.5 202.36H559.5" stroke="#10104a" stroke-width="0.7" fill="none"/>
<g font-size="5"><text x="560.4" y="313.8">0</text><text x="560.4" y="298.14">50</text><text x="560.4" y="282.48">100</text><text x="560.4" y="266.81">150</text><text x="560.4" y="251.15">200</text><text x="560.4" y="235.49">250</text><text x="560.4" y="219.82">300</text><text x="560.4" y="204.16">350</text><text x="560.4" y="188.5">400</text></g>
<path d="M462 199.9H474.8" stroke="#ee1111" stroke-width="1.3"/>
<path d="M462 209.1H474.8" stroke="#ffa010" stroke-width="1.3"/>
<circle cx="468.4" cy="209.1" r="1.6" fill="#ffa010"/>
<g font-family="Liberation Serif, serif" font-size="9.7" stroke="#1a1a1a" stroke-width="0.25"><text x="478" y="201.5">Mean prediction</text><text x="478" y="210.9">Data</text></g>
<text x="422" y="347" font-family="Liberation Serif, serif" font-size="12.2" stroke="#1a1a1a" stroke-width="0.25">(e) <tspan font-style="italic">ν</tspan>-mode 1R<tspan font-style="italic">e</tspan></text><path d="M438.39 339H445.19" stroke="#1a1a1a" stroke-width="0.85"/>
</svg>
</body></html>
